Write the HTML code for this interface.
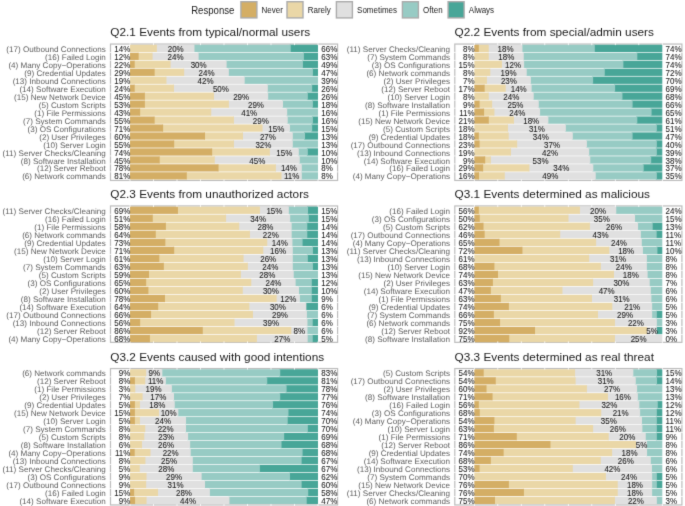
<!DOCTYPE html>
<html><head><meta charset="utf-8"><style>
html,body{margin:0;padding:0;background:#fff;width:685px;height:506px;overflow:hidden}
svg{display:block;will-change:transform}
text{font-family:'Liberation Sans', sans-serif}
.l{fill:#5C5C5C;font-size:8.1px;text-rendering:geometricPrecision}
.p{fill:#1A1A1A;font-size:8.0px;stroke:#1A1A1A;stroke-width:0.06px}
.t{fill:#1A1A1A;font-size:11.8px}
.g{fill:#1A1A1A;font-size:8px}
</style></head><body>
<svg width="685" height="506" viewBox="0 0 685 506">
<defs><filter id="bl" x="0" y="0" width="685" height="506" filterUnits="userSpaceOnUse" color-interpolation-filters="sRGB"><feConvolveMatrix order="3" kernelMatrix="0.0114 0.0841 0.0114 0.0841 0.618 0.0841 0.0114 0.0841 0.0114" edgeMode="duplicate"/></filter></defs>
<g filter="url(#bl)">
<rect width="685" height="506" fill="#fff"/>

<text transform="translate(191.2 14.0) scale(1 1.05)" style="font-size:9.6px;fill:#1A1A1A">Response</text>
<rect x="240.9" y="1.7" width="16" height="16.2" fill="#D4AE65" stroke="#ABABAB" stroke-width="1.4"/>
<text class="g" transform="translate(261.60 13.3) scale(1 1.08)">Never</text>
<rect x="287.0" y="1.7" width="16" height="16.2" fill="#EAD7A7" stroke="#ABABAB" stroke-width="1.4"/>
<text class="g" transform="translate(307.70 13.3) scale(1 1.08)">Rarely</text>
<rect x="336.4" y="1.7" width="16" height="16.2" fill="#E0E0E0" stroke="#ABABAB" stroke-width="1.4"/>
<text class="g" transform="translate(357.10 13.3) scale(1 1.08)">Sometimes</text>
<rect x="402.4" y="1.7" width="16" height="16.2" fill="#97CBC4" stroke="#ABABAB" stroke-width="1.4"/>
<text class="g" transform="translate(423.10 13.3) scale(1 1.08)">Often</text>
<rect x="448.1" y="1.7" width="16" height="16.2" fill="#48A698" stroke="#ABABAB" stroke-width="1.4"/>
<text class="g" transform="translate(468.80 13.3) scale(1 1.08)">Always</text>
<text class="t" x="110.30" y="36.05">Q2.1 Events from typical/normal users</text>
<rect x="110.50" y="44.05" width="227.10" height="136.40" fill="none" stroke="#BCBCBC" stroke-width="1.2"/>
<rect x="289.74" y="44.73" width="28.26" height="7.27" fill="#48A698"/>
<rect x="193.48" y="44.73" width="97.26" height="7.27" fill="#97CBC4"/>
<rect x="155.88" y="44.73" width="38.60" height="7.27" fill="#E0E0E0"/>
<rect x="130.00" y="44.73" width="26.88" height="7.27" fill="#EAD7A7"/>
<rect x="302.90" y="52.70" width="15.10" height="7.27" fill="#48A698"/>
<rect x="197.62" y="52.70" width="106.28" height="7.27" fill="#97CBC4"/>
<rect x="151.56" y="52.70" width="47.06" height="7.27" fill="#E0E0E0"/>
<rect x="137.65" y="52.70" width="14.91" height="7.27" fill="#EAD7A7"/>
<rect x="130.00" y="52.70" width="8.65" height="7.27" fill="#D4AE65"/>
<rect x="301.96" y="60.67" width="16.04" height="7.27" fill="#48A698"/>
<rect x="225.63" y="60.67" width="77.33" height="7.27" fill="#97CBC4"/>
<rect x="169.61" y="60.67" width="57.02" height="7.27" fill="#E0E0E0"/>
<rect x="133.70" y="60.67" width="36.91" height="7.27" fill="#EAD7A7"/>
<rect x="130.00" y="60.67" width="4.70" height="7.27" fill="#D4AE65"/>
<rect x="311.92" y="68.64" width="6.08" height="7.27" fill="#48A698"/>
<rect x="227.89" y="68.64" width="85.04" height="7.27" fill="#97CBC4"/>
<rect x="183.14" y="68.64" width="45.74" height="7.27" fill="#E0E0E0"/>
<rect x="153.63" y="68.64" width="30.52" height="7.27" fill="#EAD7A7"/>
<rect x="130.00" y="68.64" width="24.63" height="7.27" fill="#D4AE65"/>
<rect x="243.68" y="76.61" width="74.32" height="7.27" fill="#97CBC4"/>
<rect x="165.47" y="76.61" width="79.21" height="7.27" fill="#E0E0E0"/>
<rect x="130.00" y="76.61" width="36.47" height="7.27" fill="#EAD7A7"/>
<rect x="311.17" y="84.58" width="6.83" height="7.27" fill="#48A698"/>
<rect x="266.80" y="84.58" width="45.37" height="7.27" fill="#97CBC4"/>
<rect x="172.99" y="84.58" width="94.81" height="7.27" fill="#E0E0E0"/>
<rect x="133.70" y="84.58" width="40.29" height="7.27" fill="#EAD7A7"/>
<rect x="130.00" y="84.58" width="4.70" height="7.27" fill="#D4AE65"/>
<rect x="306.85" y="92.55" width="11.15" height="7.27" fill="#48A698"/>
<rect x="267.18" y="92.55" width="40.67" height="7.27" fill="#97CBC4"/>
<rect x="213.04" y="92.55" width="55.14" height="7.27" fill="#E0E0E0"/>
<rect x="143.85" y="92.55" width="70.18" height="7.27" fill="#EAD7A7"/>
<rect x="130.00" y="92.55" width="14.85" height="7.27" fill="#D4AE65"/>
<rect x="311.92" y="100.52" width="6.08" height="7.27" fill="#48A698"/>
<rect x="282.03" y="100.52" width="30.89" height="7.27" fill="#97CBC4"/>
<rect x="227.89" y="100.52" width="55.14" height="7.27" fill="#E0E0E0"/>
<rect x="143.85" y="100.52" width="85.04" height="7.27" fill="#EAD7A7"/>
<rect x="130.00" y="100.52" width="14.85" height="7.27" fill="#D4AE65"/>
<rect x="286.17" y="108.49" width="31.83" height="7.27" fill="#97CBC4"/>
<rect x="210.22" y="108.49" width="76.95" height="7.27" fill="#E0E0E0"/>
<rect x="139.15" y="108.49" width="72.06" height="7.27" fill="#EAD7A7"/>
<rect x="130.00" y="108.49" width="10.15" height="7.27" fill="#D4AE65"/>
<rect x="311.92" y="116.46" width="6.08" height="7.27" fill="#48A698"/>
<rect x="286.73" y="116.46" width="26.19" height="7.27" fill="#97CBC4"/>
<rect x="232.96" y="116.46" width="54.77" height="7.27" fill="#E0E0E0"/>
<rect x="153.63" y="116.46" width="80.34" height="7.27" fill="#EAD7A7"/>
<rect x="130.00" y="116.46" width="24.63" height="7.27" fill="#D4AE65"/>
<rect x="311.17" y="124.43" width="6.83" height="7.27" fill="#48A698"/>
<rect x="288.99" y="124.43" width="23.18" height="7.27" fill="#97CBC4"/>
<rect x="261.54" y="124.43" width="28.45" height="7.27" fill="#E0E0E0"/>
<rect x="162.09" y="124.43" width="100.45" height="7.27" fill="#EAD7A7"/>
<rect x="130.00" y="124.43" width="33.09" height="7.27" fill="#D4AE65"/>
<rect x="304.03" y="132.40" width="13.97" height="7.27" fill="#48A698"/>
<rect x="291.81" y="132.40" width="13.22" height="7.27" fill="#97CBC4"/>
<rect x="241.99" y="132.40" width="50.82" height="7.27" fill="#E0E0E0"/>
<rect x="204.01" y="132.40" width="38.98" height="7.27" fill="#EAD7A7"/>
<rect x="130.00" y="132.40" width="75.01" height="7.27" fill="#D4AE65"/>
<rect x="291.81" y="140.37" width="26.19" height="7.27" fill="#97CBC4"/>
<rect x="232.96" y="140.37" width="59.84" height="7.27" fill="#E0E0E0"/>
<rect x="173.18" y="140.37" width="60.78" height="7.27" fill="#EAD7A7"/>
<rect x="130.00" y="140.37" width="44.18" height="7.27" fill="#D4AE65"/>
<rect x="306.85" y="148.34" width="11.15" height="7.27" fill="#48A698"/>
<rect x="297.82" y="148.34" width="10.02" height="7.27" fill="#97CBC4"/>
<rect x="268.87" y="148.34" width="29.95" height="7.27" fill="#E0E0E0"/>
<rect x="211.16" y="148.34" width="58.72" height="7.27" fill="#EAD7A7"/>
<rect x="130.00" y="148.34" width="82.16" height="7.27" fill="#D4AE65"/>
<rect x="298.76" y="156.31" width="19.24" height="7.27" fill="#97CBC4"/>
<rect x="213.79" y="156.31" width="85.98" height="7.27" fill="#E0E0E0"/>
<rect x="158.70" y="156.31" width="56.08" height="7.27" fill="#EAD7A7"/>
<rect x="130.00" y="156.31" width="29.70" height="7.27" fill="#D4AE65"/>
<rect x="300.83" y="164.28" width="17.17" height="7.27" fill="#97CBC4"/>
<rect x="274.89" y="164.28" width="26.94" height="7.27" fill="#E0E0E0"/>
<rect x="217.55" y="164.28" width="58.34" height="7.27" fill="#EAD7A7"/>
<rect x="130.00" y="164.28" width="88.55" height="7.27" fill="#D4AE65"/>
<rect x="300.83" y="172.25" width="17.17" height="7.27" fill="#97CBC4"/>
<rect x="280.53" y="172.25" width="21.30" height="7.27" fill="#E0E0E0"/>
<rect x="185.78" y="172.25" width="95.75" height="7.27" fill="#EAD7A7"/>
<rect x="130.00" y="172.25" width="56.78" height="7.27" fill="#D4AE65"/>
<rect x="109.50" y="51.95" width="2" height="0.8" fill="#fff"/>
<rect x="336.60" y="51.95" width="2" height="0.8" fill="#fff"/>
<rect x="109.50" y="59.92" width="2" height="0.8" fill="#fff"/>
<rect x="336.60" y="59.92" width="2" height="0.8" fill="#fff"/>
<rect x="109.50" y="67.89" width="2" height="0.8" fill="#fff"/>
<rect x="336.60" y="67.89" width="2" height="0.8" fill="#fff"/>
<rect x="109.50" y="75.86" width="2" height="0.8" fill="#fff"/>
<rect x="336.60" y="75.86" width="2" height="0.8" fill="#fff"/>
<rect x="109.50" y="83.83" width="2" height="0.8" fill="#fff"/>
<rect x="336.60" y="83.83" width="2" height="0.8" fill="#fff"/>
<rect x="109.50" y="91.80" width="2" height="0.8" fill="#fff"/>
<rect x="336.60" y="91.80" width="2" height="0.8" fill="#fff"/>
<rect x="109.50" y="99.77" width="2" height="0.8" fill="#fff"/>
<rect x="336.60" y="99.77" width="2" height="0.8" fill="#fff"/>
<rect x="109.50" y="107.74" width="2" height="0.8" fill="#fff"/>
<rect x="336.60" y="107.74" width="2" height="0.8" fill="#fff"/>
<rect x="109.50" y="115.71" width="2" height="0.8" fill="#fff"/>
<rect x="336.60" y="115.71" width="2" height="0.8" fill="#fff"/>
<rect x="109.50" y="123.68" width="2" height="0.8" fill="#fff"/>
<rect x="336.60" y="123.68" width="2" height="0.8" fill="#fff"/>
<rect x="109.50" y="131.65" width="2" height="0.8" fill="#fff"/>
<rect x="336.60" y="131.65" width="2" height="0.8" fill="#fff"/>
<rect x="109.50" y="139.62" width="2" height="0.8" fill="#fff"/>
<rect x="336.60" y="139.62" width="2" height="0.8" fill="#fff"/>
<rect x="109.50" y="147.59" width="2" height="0.8" fill="#fff"/>
<rect x="336.60" y="147.59" width="2" height="0.8" fill="#fff"/>
<rect x="109.50" y="155.56" width="2" height="0.8" fill="#fff"/>
<rect x="336.60" y="155.56" width="2" height="0.8" fill="#fff"/>
<rect x="109.50" y="163.53" width="2" height="0.8" fill="#fff"/>
<rect x="336.60" y="163.53" width="2" height="0.8" fill="#fff"/>
<rect x="109.50" y="171.50" width="2" height="0.8" fill="#fff"/>
<rect x="336.60" y="171.50" width="2" height="0.8" fill="#fff"/>
<rect x="129.60" y="43.15" width="0.8" height="2" fill="#fff"/>
<rect x="129.60" y="179.45" width="0.8" height="2" fill="#fff"/>
<rect x="153.10" y="43.15" width="0.8" height="2" fill="#fff"/>
<rect x="153.10" y="179.45" width="0.8" height="2" fill="#fff"/>
<rect x="176.60" y="43.15" width="0.8" height="2" fill="#fff"/>
<rect x="176.60" y="179.45" width="0.8" height="2" fill="#fff"/>
<rect x="200.10" y="43.15" width="0.8" height="2" fill="#fff"/>
<rect x="200.10" y="179.45" width="0.8" height="2" fill="#fff"/>
<rect x="223.60" y="43.15" width="0.8" height="2" fill="#fff"/>
<rect x="223.60" y="179.45" width="0.8" height="2" fill="#fff"/>
<rect x="247.10" y="43.15" width="0.8" height="2" fill="#fff"/>
<rect x="247.10" y="179.45" width="0.8" height="2" fill="#fff"/>
<rect x="270.60" y="43.15" width="0.8" height="2" fill="#fff"/>
<rect x="270.60" y="179.45" width="0.8" height="2" fill="#fff"/>
<rect x="294.10" y="43.15" width="0.8" height="2" fill="#fff"/>
<rect x="294.10" y="179.45" width="0.8" height="2" fill="#fff"/>
<rect x="317.60" y="43.15" width="0.8" height="2" fill="#fff"/>
<rect x="317.60" y="179.45" width="0.8" height="2" fill="#fff"/>
<text class="l" transform="translate(105.80 51.91) scale(1 1.0)" text-anchor="end">(17) Outbound Connections</text>
<text class="p" transform="translate(130.30 51.91) scale(1 1.1)" text-anchor="end">14%</text>
<text class="p" transform="translate(321.30 51.91) scale(1 1.1)">66%</text>
<text class="p" transform="translate(175.68 51.91) scale(1 1.1)" text-anchor="middle">20%</text>
<text class="l" transform="translate(105.80 59.88) scale(1 1.0)" text-anchor="end">(16) Failed Login</text>
<text class="p" transform="translate(130.30 59.88) scale(1 1.1)" text-anchor="end">12%</text>
<text class="p" transform="translate(321.30 59.88) scale(1 1.1)">63%</text>
<text class="p" transform="translate(175.59 59.88) scale(1 1.1)" text-anchor="middle">24%</text>
<text class="l" transform="translate(105.80 67.85) scale(1 1.0)" text-anchor="end">(4) Many Copy−Operations</text>
<text class="p" transform="translate(130.30 67.85) scale(1 1.1)" text-anchor="end">22%</text>
<text class="p" transform="translate(321.30 67.85) scale(1 1.1)">49%</text>
<text class="p" transform="translate(198.62 67.85) scale(1 1.1)" text-anchor="middle">30%</text>
<text class="l" transform="translate(105.80 75.82) scale(1 1.0)" text-anchor="end">(9) Credential Updates</text>
<text class="p" transform="translate(130.30 75.82) scale(1 1.1)" text-anchor="end">29%</text>
<text class="p" transform="translate(321.30 75.82) scale(1 1.1)">47%</text>
<text class="p" transform="translate(206.52 75.82) scale(1 1.1)" text-anchor="middle">24%</text>
<text class="l" transform="translate(105.80 83.79) scale(1 1.0)" text-anchor="end">(13) Inbound Connections</text>
<text class="p" transform="translate(130.30 83.79) scale(1 1.1)" text-anchor="end">19%</text>
<text class="p" transform="translate(321.30 83.79) scale(1 1.1)">39%</text>
<text class="p" transform="translate(205.58 83.79) scale(1 1.1)" text-anchor="middle">42%</text>
<text class="l" transform="translate(105.80 91.77) scale(1 1.0)" text-anchor="end">(14) Software Execution</text>
<text class="p" transform="translate(130.30 91.77) scale(1 1.1)" text-anchor="end">24%</text>
<text class="p" transform="translate(321.30 91.77) scale(1 1.1)">26%</text>
<text class="p" transform="translate(220.90 91.77) scale(1 1.1)" text-anchor="middle">50%</text>
<text class="l" transform="translate(105.80 99.73) scale(1 1.0)" text-anchor="end">(15) New Network Device</text>
<text class="p" transform="translate(130.30 99.73) scale(1 1.1)" text-anchor="end">45%</text>
<text class="p" transform="translate(321.30 99.73) scale(1 1.1)">26%</text>
<text class="p" transform="translate(241.11 99.73) scale(1 1.1)" text-anchor="middle">29%</text>
<text class="l" transform="translate(105.80 107.70) scale(1 1.0)" text-anchor="end">(5) Custom Scripts</text>
<text class="p" transform="translate(130.30 107.70) scale(1 1.1)" text-anchor="end">53%</text>
<text class="p" transform="translate(321.30 107.70) scale(1 1.1)">18%</text>
<text class="p" transform="translate(255.96 107.70) scale(1 1.1)" text-anchor="middle">29%</text>
<text class="l" transform="translate(105.80 115.67) scale(1 1.0)" text-anchor="end">(1) File Permissions</text>
<text class="p" transform="translate(130.30 115.67) scale(1 1.1)" text-anchor="end">43%</text>
<text class="p" transform="translate(321.30 115.67) scale(1 1.1)">16%</text>
<text class="p" transform="translate(249.19 115.67) scale(1 1.1)" text-anchor="middle">41%</text>
<text class="l" transform="translate(105.80 123.64) scale(1 1.0)" text-anchor="end">(7) System Commands</text>
<text class="p" transform="translate(130.30 123.64) scale(1 1.1)" text-anchor="end">55%</text>
<text class="p" transform="translate(321.30 123.64) scale(1 1.1)">16%</text>
<text class="p" transform="translate(260.85 123.64) scale(1 1.1)" text-anchor="middle">29%</text>
<text class="l" transform="translate(105.80 131.62) scale(1 1.0)" text-anchor="end">(3) OS Configurations</text>
<text class="p" transform="translate(130.30 131.62) scale(1 1.1)" text-anchor="end">71%</text>
<text class="p" transform="translate(321.30 131.62) scale(1 1.1)">15%</text>
<text class="p" transform="translate(276.26 131.62) scale(1 1.1)" text-anchor="middle">15%</text>
<text class="l" transform="translate(105.80 139.59) scale(1 1.0)" text-anchor="end">(2) User Privileges</text>
<text class="p" transform="translate(130.30 139.59) scale(1 1.1)" text-anchor="end">60%</text>
<text class="p" transform="translate(321.30 139.59) scale(1 1.1)">13%</text>
<text class="p" transform="translate(267.90 139.59) scale(1 1.1)" text-anchor="middle">27%</text>
<text class="l" transform="translate(105.80 147.56) scale(1 1.0)" text-anchor="end">(10) Server Login</text>
<text class="p" transform="translate(130.30 147.56) scale(1 1.1)" text-anchor="end">55%</text>
<text class="p" transform="translate(321.30 147.56) scale(1 1.1)">13%</text>
<text class="p" transform="translate(263.39 147.56) scale(1 1.1)" text-anchor="middle">32%</text>
<text class="l" transform="translate(105.80 155.53) scale(1 1.0)" text-anchor="end">(11) Server Checks/Cleaning</text>
<text class="p" transform="translate(130.30 155.53) scale(1 1.1)" text-anchor="end">74%</text>
<text class="p" transform="translate(321.30 155.53) scale(1 1.1)">10%</text>
<text class="p" transform="translate(284.35 155.53) scale(1 1.1)" text-anchor="middle">15%</text>
<text class="l" transform="translate(105.80 163.50) scale(1 1.0)" text-anchor="end">(8) Software Installation</text>
<text class="p" transform="translate(130.30 163.50) scale(1 1.1)" text-anchor="end">45%</text>
<text class="p" transform="translate(321.30 163.50) scale(1 1.1)">10%</text>
<text class="p" transform="translate(257.28 163.50) scale(1 1.1)" text-anchor="middle">45%</text>
<text class="l" transform="translate(105.80 171.47) scale(1 1.0)" text-anchor="end">(12) Server Reboot</text>
<text class="p" transform="translate(130.30 171.47) scale(1 1.1)" text-anchor="end">78%</text>
<text class="p" transform="translate(321.30 171.47) scale(1 1.1)">8%</text>
<text class="p" transform="translate(288.86 171.47) scale(1 1.1)" text-anchor="middle">14%</text>
<text class="l" transform="translate(105.80 179.44) scale(1 1.0)" text-anchor="end">(6) Network commands</text>
<text class="p" transform="translate(130.30 179.44) scale(1 1.1)" text-anchor="end">81%</text>
<text class="p" transform="translate(321.30 179.44) scale(1 1.1)">8%</text>
<text class="p" transform="translate(291.68 179.44) scale(1 1.1)" text-anchor="middle">11%</text>
<text class="t" x="110.30" y="197.95">Q2.3 Events from unauthorized actors</text>
<rect x="110.50" y="205.95" width="227.10" height="136.40" fill="none" stroke="#BCBCBC" stroke-width="1.2"/>
<rect x="307.04" y="206.58" width="10.96" height="7.32" fill="#48A698"/>
<rect x="287.86" y="206.58" width="20.18" height="7.32" fill="#97CBC4"/>
<rect x="258.91" y="206.58" width="29.95" height="7.32" fill="#E0E0E0"/>
<rect x="176.94" y="206.58" width="82.97" height="7.32" fill="#EAD7A7"/>
<rect x="130.00" y="206.58" width="47.94" height="7.32" fill="#D4AE65"/>
<rect x="307.79" y="214.60" width="10.21" height="7.32" fill="#48A698"/>
<rect x="289.18" y="214.60" width="19.61" height="7.32" fill="#97CBC4"/>
<rect x="225.07" y="214.60" width="65.11" height="7.32" fill="#E0E0E0"/>
<rect x="151.75" y="214.60" width="74.32" height="7.32" fill="#EAD7A7"/>
<rect x="130.00" y="214.60" width="22.75" height="7.32" fill="#D4AE65"/>
<rect x="306.28" y="222.62" width="11.72" height="7.32" fill="#48A698"/>
<rect x="290.68" y="222.62" width="16.60" height="7.32" fill="#97CBC4"/>
<rect x="238.23" y="222.62" width="53.45" height="7.32" fill="#E0E0E0"/>
<rect x="164.91" y="222.62" width="74.32" height="7.32" fill="#EAD7A7"/>
<rect x="130.00" y="222.62" width="35.91" height="7.32" fill="#D4AE65"/>
<rect x="306.28" y="230.64" width="11.72" height="7.32" fill="#48A698"/>
<rect x="290.68" y="230.64" width="16.60" height="7.32" fill="#97CBC4"/>
<rect x="248.94" y="230.64" width="42.74" height="7.32" fill="#E0E0E0"/>
<rect x="154.76" y="230.64" width="95.19" height="7.32" fill="#EAD7A7"/>
<rect x="130.00" y="230.64" width="25.76" height="7.32" fill="#D4AE65"/>
<rect x="301.58" y="238.66" width="16.42" height="7.32" fill="#48A698"/>
<rect x="291.43" y="238.66" width="11.15" height="7.32" fill="#97CBC4"/>
<rect x="266.24" y="238.66" width="26.19" height="7.32" fill="#E0E0E0"/>
<rect x="164.34" y="238.66" width="102.90" height="7.32" fill="#EAD7A7"/>
<rect x="130.00" y="238.66" width="35.34" height="7.32" fill="#D4AE65"/>
<rect x="311.92" y="246.68" width="6.08" height="7.32" fill="#48A698"/>
<rect x="291.81" y="246.68" width="21.12" height="7.32" fill="#97CBC4"/>
<rect x="262.29" y="246.68" width="30.52" height="7.32" fill="#E0E0E0"/>
<rect x="173.18" y="246.68" width="90.11" height="7.32" fill="#EAD7A7"/>
<rect x="130.00" y="246.68" width="44.18" height="7.32" fill="#D4AE65"/>
<rect x="306.85" y="254.70" width="11.15" height="7.32" fill="#48A698"/>
<rect x="291.81" y="254.70" width="16.04" height="7.32" fill="#97CBC4"/>
<rect x="242.55" y="254.70" width="50.26" height="7.32" fill="#E0E0E0"/>
<rect x="158.33" y="254.70" width="85.22" height="7.32" fill="#EAD7A7"/>
<rect x="130.00" y="254.70" width="29.33" height="7.32" fill="#D4AE65"/>
<rect x="311.92" y="262.72" width="6.08" height="7.32" fill="#48A698"/>
<rect x="291.81" y="262.72" width="21.12" height="7.32" fill="#97CBC4"/>
<rect x="246.88" y="262.72" width="45.93" height="7.32" fill="#E0E0E0"/>
<rect x="162.84" y="262.72" width="85.04" height="7.32" fill="#EAD7A7"/>
<rect x="130.00" y="262.72" width="33.84" height="7.32" fill="#D4AE65"/>
<rect x="292.75" y="270.74" width="25.25" height="7.32" fill="#97CBC4"/>
<rect x="239.92" y="270.74" width="53.83" height="7.32" fill="#E0E0E0"/>
<rect x="147.99" y="270.74" width="92.93" height="7.32" fill="#EAD7A7"/>
<rect x="130.00" y="270.74" width="18.99" height="7.32" fill="#D4AE65"/>
<rect x="310.80" y="278.76" width="7.20" height="7.32" fill="#48A698"/>
<rect x="294.63" y="278.76" width="17.17" height="7.32" fill="#97CBC4"/>
<rect x="250.26" y="278.76" width="45.37" height="7.32" fill="#E0E0E0"/>
<rect x="145.17" y="278.76" width="106.09" height="7.32" fill="#EAD7A7"/>
<rect x="130.00" y="278.76" width="16.17" height="7.32" fill="#D4AE65"/>
<rect x="310.80" y="286.78" width="7.20" height="7.32" fill="#48A698"/>
<rect x="298.01" y="286.78" width="13.78" height="7.32" fill="#97CBC4"/>
<rect x="241.80" y="286.78" width="57.21" height="7.32" fill="#E0E0E0"/>
<rect x="147.42" y="286.78" width="95.38" height="7.32" fill="#EAD7A7"/>
<rect x="130.00" y="286.78" width="18.42" height="7.32" fill="#D4AE65"/>
<rect x="310.80" y="294.80" width="7.20" height="7.32" fill="#48A698"/>
<rect x="298.95" y="294.80" width="12.84" height="7.32" fill="#97CBC4"/>
<rect x="275.64" y="294.80" width="24.31" height="7.32" fill="#E0E0E0"/>
<rect x="163.97" y="294.80" width="112.67" height="7.32" fill="#EAD7A7"/>
<rect x="130.00" y="294.80" width="34.97" height="7.32" fill="#D4AE65"/>
<rect x="305.34" y="302.82" width="12.66" height="7.32" fill="#48A698"/>
<rect x="248.38" y="302.82" width="57.96" height="7.32" fill="#E0E0E0"/>
<rect x="157.20" y="302.82" width="92.18" height="7.32" fill="#EAD7A7"/>
<rect x="130.00" y="302.82" width="28.20" height="7.32" fill="#D4AE65"/>
<rect x="305.91" y="310.84" width="12.09" height="7.32" fill="#97CBC4"/>
<rect x="251.95" y="310.84" width="54.96" height="7.32" fill="#E0E0E0"/>
<rect x="150.06" y="310.84" width="102.90" height="7.32" fill="#EAD7A7"/>
<rect x="130.00" y="310.84" width="21.06" height="7.32" fill="#D4AE65"/>
<rect x="311.74" y="318.86" width="6.26" height="7.32" fill="#48A698"/>
<rect x="306.47" y="318.86" width="6.26" height="7.32" fill="#97CBC4"/>
<rect x="233.53" y="318.86" width="73.94" height="7.32" fill="#E0E0E0"/>
<rect x="139.15" y="318.86" width="95.38" height="7.32" fill="#EAD7A7"/>
<rect x="130.00" y="318.86" width="10.15" height="7.32" fill="#D4AE65"/>
<rect x="306.47" y="326.88" width="11.53" height="7.32" fill="#97CBC4"/>
<rect x="290.30" y="326.88" width="17.17" height="7.32" fill="#E0E0E0"/>
<rect x="201.76" y="326.88" width="89.55" height="7.32" fill="#EAD7A7"/>
<rect x="130.00" y="326.88" width="72.76" height="7.32" fill="#D4AE65"/>
<rect x="311.74" y="334.90" width="6.26" height="7.32" fill="#48A698"/>
<rect x="306.66" y="334.90" width="6.08" height="7.32" fill="#97CBC4"/>
<rect x="255.90" y="334.90" width="51.76" height="7.32" fill="#E0E0E0"/>
<rect x="148.93" y="334.90" width="107.97" height="7.32" fill="#EAD7A7"/>
<rect x="130.00" y="334.90" width="19.93" height="7.32" fill="#D4AE65"/>
<rect x="109.50" y="213.85" width="2" height="0.8" fill="#fff"/>
<rect x="336.60" y="213.85" width="2" height="0.8" fill="#fff"/>
<rect x="109.50" y="221.87" width="2" height="0.8" fill="#fff"/>
<rect x="336.60" y="221.87" width="2" height="0.8" fill="#fff"/>
<rect x="109.50" y="229.89" width="2" height="0.8" fill="#fff"/>
<rect x="336.60" y="229.89" width="2" height="0.8" fill="#fff"/>
<rect x="109.50" y="237.91" width="2" height="0.8" fill="#fff"/>
<rect x="336.60" y="237.91" width="2" height="0.8" fill="#fff"/>
<rect x="109.50" y="245.93" width="2" height="0.8" fill="#fff"/>
<rect x="336.60" y="245.93" width="2" height="0.8" fill="#fff"/>
<rect x="109.50" y="253.95" width="2" height="0.8" fill="#fff"/>
<rect x="336.60" y="253.95" width="2" height="0.8" fill="#fff"/>
<rect x="109.50" y="261.97" width="2" height="0.8" fill="#fff"/>
<rect x="336.60" y="261.97" width="2" height="0.8" fill="#fff"/>
<rect x="109.50" y="269.99" width="2" height="0.8" fill="#fff"/>
<rect x="336.60" y="269.99" width="2" height="0.8" fill="#fff"/>
<rect x="109.50" y="278.01" width="2" height="0.8" fill="#fff"/>
<rect x="336.60" y="278.01" width="2" height="0.8" fill="#fff"/>
<rect x="109.50" y="286.03" width="2" height="0.8" fill="#fff"/>
<rect x="336.60" y="286.03" width="2" height="0.8" fill="#fff"/>
<rect x="109.50" y="294.05" width="2" height="0.8" fill="#fff"/>
<rect x="336.60" y="294.05" width="2" height="0.8" fill="#fff"/>
<rect x="109.50" y="302.07" width="2" height="0.8" fill="#fff"/>
<rect x="336.60" y="302.07" width="2" height="0.8" fill="#fff"/>
<rect x="109.50" y="310.09" width="2" height="0.8" fill="#fff"/>
<rect x="336.60" y="310.09" width="2" height="0.8" fill="#fff"/>
<rect x="109.50" y="318.11" width="2" height="0.8" fill="#fff"/>
<rect x="336.60" y="318.11" width="2" height="0.8" fill="#fff"/>
<rect x="109.50" y="326.13" width="2" height="0.8" fill="#fff"/>
<rect x="336.60" y="326.13" width="2" height="0.8" fill="#fff"/>
<rect x="109.50" y="334.15" width="2" height="0.8" fill="#fff"/>
<rect x="336.60" y="334.15" width="2" height="0.8" fill="#fff"/>
<rect x="129.60" y="205.05" width="0.8" height="2" fill="#fff"/>
<rect x="129.60" y="341.35" width="0.8" height="2" fill="#fff"/>
<rect x="153.10" y="205.05" width="0.8" height="2" fill="#fff"/>
<rect x="153.10" y="341.35" width="0.8" height="2" fill="#fff"/>
<rect x="176.60" y="205.05" width="0.8" height="2" fill="#fff"/>
<rect x="176.60" y="341.35" width="0.8" height="2" fill="#fff"/>
<rect x="200.10" y="205.05" width="0.8" height="2" fill="#fff"/>
<rect x="200.10" y="341.35" width="0.8" height="2" fill="#fff"/>
<rect x="223.60" y="205.05" width="0.8" height="2" fill="#fff"/>
<rect x="223.60" y="341.35" width="0.8" height="2" fill="#fff"/>
<rect x="247.10" y="205.05" width="0.8" height="2" fill="#fff"/>
<rect x="247.10" y="341.35" width="0.8" height="2" fill="#fff"/>
<rect x="270.60" y="205.05" width="0.8" height="2" fill="#fff"/>
<rect x="270.60" y="341.35" width="0.8" height="2" fill="#fff"/>
<rect x="294.10" y="205.05" width="0.8" height="2" fill="#fff"/>
<rect x="294.10" y="341.35" width="0.8" height="2" fill="#fff"/>
<rect x="317.60" y="205.05" width="0.8" height="2" fill="#fff"/>
<rect x="317.60" y="341.35" width="0.8" height="2" fill="#fff"/>
<text class="l" transform="translate(105.80 213.79) scale(1 1.0)" text-anchor="end">(11) Server Checks/Cleaning</text>
<text class="p" transform="translate(130.30 213.79) scale(1 1.1)" text-anchor="end">69%</text>
<text class="p" transform="translate(321.30 213.79) scale(1 1.1)">15%</text>
<text class="p" transform="translate(274.38 213.79) scale(1 1.1)" text-anchor="middle">15%</text>
<text class="l" transform="translate(105.80 221.81) scale(1 1.0)" text-anchor="end">(16) Failed Login</text>
<text class="p" transform="translate(130.30 221.81) scale(1 1.1)" text-anchor="end">51%</text>
<text class="p" transform="translate(321.30 221.81) scale(1 1.1)">15%</text>
<text class="p" transform="translate(258.12 221.81) scale(1 1.1)" text-anchor="middle">34%</text>
<text class="l" transform="translate(105.80 229.83) scale(1 1.0)" text-anchor="end">(1) File Permissions</text>
<text class="p" transform="translate(130.30 229.83) scale(1 1.1)" text-anchor="end">58%</text>
<text class="p" transform="translate(321.30 229.83) scale(1 1.1)">14%</text>
<text class="p" transform="translate(265.45 229.83) scale(1 1.1)" text-anchor="middle">28%</text>
<text class="l" transform="translate(105.80 237.85) scale(1 1.0)" text-anchor="end">(6) Network commands</text>
<text class="p" transform="translate(130.30 237.85) scale(1 1.1)" text-anchor="end">64%</text>
<text class="p" transform="translate(321.30 237.85) scale(1 1.1)">14%</text>
<text class="p" transform="translate(270.81 237.85) scale(1 1.1)" text-anchor="middle">22%</text>
<text class="l" transform="translate(105.80 245.87) scale(1 1.0)" text-anchor="end">(9) Credential Updates</text>
<text class="p" transform="translate(130.30 245.87) scale(1 1.1)" text-anchor="end">73%</text>
<text class="p" transform="translate(321.30 245.87) scale(1 1.1)">14%</text>
<text class="p" transform="translate(279.84 245.87) scale(1 1.1)" text-anchor="middle">14%</text>
<text class="l" transform="translate(105.80 253.89) scale(1 1.0)" text-anchor="end">(15) New Network Device</text>
<text class="p" transform="translate(130.30 253.89) scale(1 1.1)" text-anchor="end">71%</text>
<text class="p" transform="translate(321.30 253.89) scale(1 1.1)">13%</text>
<text class="p" transform="translate(278.05 253.89) scale(1 1.1)" text-anchor="middle">16%</text>
<text class="l" transform="translate(105.80 261.91) scale(1 1.0)" text-anchor="end">(10) Server Login</text>
<text class="p" transform="translate(130.30 261.91) scale(1 1.1)" text-anchor="end">61%</text>
<text class="p" transform="translate(321.30 261.91) scale(1 1.1)">13%</text>
<text class="p" transform="translate(268.18 261.91) scale(1 1.1)" text-anchor="middle">26%</text>
<text class="l" transform="translate(105.80 269.93) scale(1 1.0)" text-anchor="end">(7) System Commands</text>
<text class="p" transform="translate(130.30 269.93) scale(1 1.1)" text-anchor="end">63%</text>
<text class="p" transform="translate(321.30 269.93) scale(1 1.1)">13%</text>
<text class="p" transform="translate(270.34 269.93) scale(1 1.1)" text-anchor="middle">24%</text>
<text class="l" transform="translate(105.80 277.95) scale(1 1.0)" text-anchor="end">(5) Custom Scripts</text>
<text class="p" transform="translate(130.30 277.95) scale(1 1.1)" text-anchor="end">59%</text>
<text class="p" transform="translate(321.30 277.95) scale(1 1.1)">13%</text>
<text class="p" transform="translate(267.33 277.95) scale(1 1.1)" text-anchor="middle">28%</text>
<text class="l" transform="translate(105.80 285.97) scale(1 1.0)" text-anchor="end">(3) OS Configurations</text>
<text class="p" transform="translate(130.30 285.97) scale(1 1.1)" text-anchor="end">65%</text>
<text class="p" transform="translate(321.30 285.97) scale(1 1.1)">12%</text>
<text class="p" transform="translate(273.44 285.97) scale(1 1.1)" text-anchor="middle">24%</text>
<text class="l" transform="translate(105.80 293.99) scale(1 1.0)" text-anchor="end">(2) User Privileges</text>
<text class="p" transform="translate(130.30 293.99) scale(1 1.1)" text-anchor="end">60%</text>
<text class="p" transform="translate(321.30 293.99) scale(1 1.1)">10%</text>
<text class="p" transform="translate(270.91 293.99) scale(1 1.1)" text-anchor="middle">30%</text>
<text class="l" transform="translate(105.80 302.01) scale(1 1.0)" text-anchor="end">(8) Software Installation</text>
<text class="p" transform="translate(130.30 302.01) scale(1 1.1)" text-anchor="end">78%</text>
<text class="p" transform="translate(321.30 302.01) scale(1 1.1)">9%</text>
<text class="p" transform="translate(288.30 302.01) scale(1 1.1)" text-anchor="middle">12%</text>
<text class="l" transform="translate(105.80 310.03) scale(1 1.0)" text-anchor="end">(14) Software Execution</text>
<text class="p" transform="translate(130.30 310.03) scale(1 1.1)" text-anchor="end">64%</text>
<text class="p" transform="translate(321.30 310.03) scale(1 1.1)">6%</text>
<text class="p" transform="translate(277.86 310.03) scale(1 1.1)" text-anchor="middle">30%</text>
<text class="l" transform="translate(105.80 318.05) scale(1 1.0)" text-anchor="end">(17) Outbound Connections</text>
<text class="p" transform="translate(130.30 318.05) scale(1 1.1)" text-anchor="end">66%</text>
<text class="p" transform="translate(321.30 318.05) scale(1 1.1)">6%</text>
<text class="p" transform="translate(279.93 318.05) scale(1 1.1)" text-anchor="middle">29%</text>
<text class="l" transform="translate(105.80 326.07) scale(1 1.0)" text-anchor="end">(13) Inbound Connections</text>
<text class="p" transform="translate(130.30 326.07) scale(1 1.1)" text-anchor="end">56%</text>
<text class="p" transform="translate(321.30 326.07) scale(1 1.1)">6%</text>
<text class="p" transform="translate(271.00 326.07) scale(1 1.1)" text-anchor="middle">39%</text>
<text class="l" transform="translate(105.80 334.09) scale(1 1.0)" text-anchor="end">(12) Server Reboot</text>
<text class="p" transform="translate(130.30 334.09) scale(1 1.1)" text-anchor="end">86%</text>
<text class="p" transform="translate(321.30 334.09) scale(1 1.1)">6%</text>
<text class="p" transform="translate(299.39 334.09) scale(1 1.1)" text-anchor="middle">8%</text>
<text class="l" transform="translate(105.80 342.11) scale(1 1.0)" text-anchor="end">(4) Many Copy−Operations</text>
<text class="p" transform="translate(130.30 342.11) scale(1 1.1)" text-anchor="end">68%</text>
<text class="p" transform="translate(321.30 342.11) scale(1 1.1)">5%</text>
<text class="p" transform="translate(282.28 342.11) scale(1 1.1)" text-anchor="middle">27%</text>
<text class="t" x="110.30" y="360.55">Q3.2 Events caused with good intentions</text>
<rect x="110.50" y="368.55" width="227.10" height="136.40" fill="none" stroke="#BCBCBC" stroke-width="1.2"/>
<rect x="279.21" y="369.23" width="38.79" height="7.27" fill="#48A698"/>
<rect x="161.34" y="369.23" width="118.88" height="7.27" fill="#97CBC4"/>
<rect x="145.17" y="369.23" width="17.17" height="7.27" fill="#E0E0E0"/>
<rect x="130.00" y="369.23" width="16.17" height="7.27" fill="#EAD7A7"/>
<rect x="266.24" y="377.20" width="51.76" height="7.27" fill="#48A698"/>
<rect x="164.91" y="377.20" width="102.33" height="7.27" fill="#97CBC4"/>
<rect x="144.23" y="377.20" width="21.68" height="7.27" fill="#E0E0E0"/>
<rect x="133.89" y="377.20" width="11.34" height="7.27" fill="#EAD7A7"/>
<rect x="130.00" y="377.20" width="4.89" height="7.27" fill="#D4AE65"/>
<rect x="285.60" y="385.17" width="32.40" height="7.27" fill="#48A698"/>
<rect x="170.92" y="385.17" width="115.68" height="7.27" fill="#97CBC4"/>
<rect x="134.26" y="385.17" width="37.66" height="7.27" fill="#E0E0E0"/>
<rect x="130.00" y="385.17" width="5.26" height="7.27" fill="#EAD7A7"/>
<rect x="279.21" y="393.14" width="38.79" height="7.27" fill="#48A698"/>
<rect x="172.99" y="393.14" width="107.22" height="7.27" fill="#97CBC4"/>
<rect x="141.60" y="393.14" width="32.40" height="7.27" fill="#E0E0E0"/>
<rect x="130.00" y="393.14" width="12.60" height="7.27" fill="#EAD7A7"/>
<rect x="272.07" y="401.11" width="45.93" height="7.27" fill="#48A698"/>
<rect x="173.74" y="401.11" width="99.32" height="7.27" fill="#97CBC4"/>
<rect x="138.96" y="401.11" width="35.78" height="7.27" fill="#E0E0E0"/>
<rect x="133.89" y="401.11" width="6.08" height="7.27" fill="#EAD7A7"/>
<rect x="130.00" y="401.11" width="4.89" height="7.27" fill="#D4AE65"/>
<rect x="287.48" y="409.08" width="30.52" height="7.27" fill="#48A698"/>
<rect x="177.32" y="409.08" width="111.17" height="7.27" fill="#97CBC4"/>
<rect x="157.95" y="409.08" width="20.36" height="7.27" fill="#E0E0E0"/>
<rect x="133.89" y="409.08" width="25.06" height="7.27" fill="#EAD7A7"/>
<rect x="130.00" y="409.08" width="4.89" height="7.27" fill="#D4AE65"/>
<rect x="286.73" y="417.05" width="31.27" height="7.27" fill="#48A698"/>
<rect x="185.02" y="417.05" width="102.71" height="7.27" fill="#97CBC4"/>
<rect x="138.96" y="417.05" width="47.06" height="7.27" fill="#E0E0E0"/>
<rect x="133.89" y="417.05" width="6.08" height="7.27" fill="#EAD7A7"/>
<rect x="130.00" y="417.05" width="4.89" height="7.27" fill="#D4AE65"/>
<rect x="306.85" y="425.02" width="11.15" height="7.27" fill="#48A698"/>
<rect x="185.02" y="425.02" width="122.82" height="7.27" fill="#97CBC4"/>
<rect x="144.23" y="425.02" width="41.80" height="7.27" fill="#E0E0E0"/>
<rect x="130.00" y="425.02" width="15.23" height="7.27" fill="#EAD7A7"/>
<rect x="283.16" y="432.99" width="34.84" height="7.27" fill="#48A698"/>
<rect x="187.09" y="432.99" width="97.07" height="7.27" fill="#97CBC4"/>
<rect x="143.29" y="432.99" width="44.80" height="7.27" fill="#E0E0E0"/>
<rect x="130.00" y="432.99" width="14.29" height="7.27" fill="#EAD7A7"/>
<rect x="280.53" y="440.96" width="37.47" height="7.27" fill="#48A698"/>
<rect x="189.16" y="440.96" width="92.37" height="7.27" fill="#97CBC4"/>
<rect x="141.03" y="440.96" width="49.13" height="7.27" fill="#E0E0E0"/>
<rect x="130.00" y="440.96" width="12.03" height="7.27" fill="#EAD7A7"/>
<rect x="301.58" y="448.93" width="16.42" height="7.27" fill="#48A698"/>
<rect x="189.72" y="448.93" width="112.86" height="7.27" fill="#97CBC4"/>
<rect x="149.49" y="448.93" width="41.23" height="7.27" fill="#E0E0E0"/>
<rect x="133.70" y="448.93" width="16.79" height="7.27" fill="#EAD7A7"/>
<rect x="130.00" y="448.93" width="4.70" height="7.27" fill="#D4AE65"/>
<rect x="300.64" y="456.90" width="17.36" height="7.27" fill="#48A698"/>
<rect x="191.79" y="456.90" width="109.85" height="7.27" fill="#97CBC4"/>
<rect x="144.42" y="456.90" width="48.38" height="7.27" fill="#E0E0E0"/>
<rect x="130.00" y="456.90" width="15.42" height="7.27" fill="#EAD7A7"/>
<rect x="258.91" y="464.87" width="59.09" height="7.27" fill="#48A698"/>
<rect x="191.79" y="464.87" width="68.12" height="7.27" fill="#97CBC4"/>
<rect x="138.78" y="464.87" width="54.02" height="7.27" fill="#E0E0E0"/>
<rect x="130.00" y="464.87" width="9.78" height="7.27" fill="#EAD7A7"/>
<rect x="288.99" y="472.84" width="29.01" height="7.27" fill="#48A698"/>
<rect x="200.63" y="472.84" width="89.36" height="7.27" fill="#97CBC4"/>
<rect x="145.54" y="472.84" width="56.08" height="7.27" fill="#E0E0E0"/>
<rect x="130.00" y="472.84" width="16.54" height="7.27" fill="#EAD7A7"/>
<rect x="300.64" y="480.81" width="17.36" height="7.27" fill="#48A698"/>
<rect x="204.01" y="480.81" width="97.63" height="7.27" fill="#97CBC4"/>
<rect x="145.17" y="480.81" width="59.84" height="7.27" fill="#E0E0E0"/>
<rect x="130.00" y="480.81" width="16.17" height="7.27" fill="#EAD7A7"/>
<rect x="307.22" y="488.78" width="10.78" height="7.27" fill="#48A698"/>
<rect x="208.90" y="488.78" width="99.32" height="7.27" fill="#97CBC4"/>
<rect x="157.01" y="488.78" width="52.89" height="7.27" fill="#E0E0E0"/>
<rect x="133.14" y="488.78" width="24.88" height="7.27" fill="#EAD7A7"/>
<rect x="130.00" y="488.78" width="4.14" height="7.27" fill="#D4AE65"/>
<rect x="305.72" y="496.75" width="12.28" height="7.27" fill="#48A698"/>
<rect x="228.45" y="496.75" width="78.27" height="7.27" fill="#97CBC4"/>
<rect x="145.54" y="496.75" width="83.91" height="7.27" fill="#E0E0E0"/>
<rect x="134.08" y="496.75" width="12.47" height="7.27" fill="#EAD7A7"/>
<rect x="130.00" y="496.75" width="5.08" height="7.27" fill="#D4AE65"/>
<rect x="109.50" y="376.45" width="2" height="0.8" fill="#fff"/>
<rect x="336.60" y="376.45" width="2" height="0.8" fill="#fff"/>
<rect x="109.50" y="384.42" width="2" height="0.8" fill="#fff"/>
<rect x="336.60" y="384.42" width="2" height="0.8" fill="#fff"/>
<rect x="109.50" y="392.39" width="2" height="0.8" fill="#fff"/>
<rect x="336.60" y="392.39" width="2" height="0.8" fill="#fff"/>
<rect x="109.50" y="400.36" width="2" height="0.8" fill="#fff"/>
<rect x="336.60" y="400.36" width="2" height="0.8" fill="#fff"/>
<rect x="109.50" y="408.33" width="2" height="0.8" fill="#fff"/>
<rect x="336.60" y="408.33" width="2" height="0.8" fill="#fff"/>
<rect x="109.50" y="416.30" width="2" height="0.8" fill="#fff"/>
<rect x="336.60" y="416.30" width="2" height="0.8" fill="#fff"/>
<rect x="109.50" y="424.27" width="2" height="0.8" fill="#fff"/>
<rect x="336.60" y="424.27" width="2" height="0.8" fill="#fff"/>
<rect x="109.50" y="432.24" width="2" height="0.8" fill="#fff"/>
<rect x="336.60" y="432.24" width="2" height="0.8" fill="#fff"/>
<rect x="109.50" y="440.21" width="2" height="0.8" fill="#fff"/>
<rect x="336.60" y="440.21" width="2" height="0.8" fill="#fff"/>
<rect x="109.50" y="448.18" width="2" height="0.8" fill="#fff"/>
<rect x="336.60" y="448.18" width="2" height="0.8" fill="#fff"/>
<rect x="109.50" y="456.15" width="2" height="0.8" fill="#fff"/>
<rect x="336.60" y="456.15" width="2" height="0.8" fill="#fff"/>
<rect x="109.50" y="464.12" width="2" height="0.8" fill="#fff"/>
<rect x="336.60" y="464.12" width="2" height="0.8" fill="#fff"/>
<rect x="109.50" y="472.09" width="2" height="0.8" fill="#fff"/>
<rect x="336.60" y="472.09" width="2" height="0.8" fill="#fff"/>
<rect x="109.50" y="480.06" width="2" height="0.8" fill="#fff"/>
<rect x="336.60" y="480.06" width="2" height="0.8" fill="#fff"/>
<rect x="109.50" y="488.03" width="2" height="0.8" fill="#fff"/>
<rect x="336.60" y="488.03" width="2" height="0.8" fill="#fff"/>
<rect x="109.50" y="496.00" width="2" height="0.8" fill="#fff"/>
<rect x="336.60" y="496.00" width="2" height="0.8" fill="#fff"/>
<rect x="129.60" y="367.65" width="0.8" height="2" fill="#fff"/>
<rect x="129.60" y="503.95" width="0.8" height="2" fill="#fff"/>
<rect x="153.10" y="367.65" width="0.8" height="2" fill="#fff"/>
<rect x="153.10" y="503.95" width="0.8" height="2" fill="#fff"/>
<rect x="176.60" y="367.65" width="0.8" height="2" fill="#fff"/>
<rect x="176.60" y="503.95" width="0.8" height="2" fill="#fff"/>
<rect x="200.10" y="367.65" width="0.8" height="2" fill="#fff"/>
<rect x="200.10" y="503.95" width="0.8" height="2" fill="#fff"/>
<rect x="223.60" y="367.65" width="0.8" height="2" fill="#fff"/>
<rect x="223.60" y="503.95" width="0.8" height="2" fill="#fff"/>
<rect x="247.10" y="367.65" width="0.8" height="2" fill="#fff"/>
<rect x="247.10" y="503.95" width="0.8" height="2" fill="#fff"/>
<rect x="270.60" y="367.65" width="0.8" height="2" fill="#fff"/>
<rect x="270.60" y="503.95" width="0.8" height="2" fill="#fff"/>
<rect x="294.10" y="367.65" width="0.8" height="2" fill="#fff"/>
<rect x="294.10" y="503.95" width="0.8" height="2" fill="#fff"/>
<rect x="317.60" y="367.65" width="0.8" height="2" fill="#fff"/>
<rect x="317.60" y="503.95" width="0.8" height="2" fill="#fff"/>
<text class="l" transform="translate(105.80 376.41) scale(1 1.0)" text-anchor="end">(6) Network commands</text>
<text class="p" transform="translate(130.30 376.41) scale(1 1.1)" text-anchor="end">9%</text>
<text class="p" transform="translate(321.30 376.41) scale(1 1.1)">83%</text>
<text class="p" transform="translate(154.25 376.41) scale(1 1.1)" text-anchor="middle">9%</text>
<text class="l" transform="translate(105.80 384.38) scale(1 1.0)" text-anchor="end">(12) Server Reboot</text>
<text class="p" transform="translate(130.30 384.38) scale(1 1.1)" text-anchor="end">8%</text>
<text class="p" transform="translate(321.30 384.38) scale(1 1.1)">81%</text>
<text class="p" transform="translate(155.57 384.38) scale(1 1.1)" text-anchor="middle">11%</text>
<text class="l" transform="translate(105.80 392.35) scale(1 1.0)" text-anchor="end">(1) File Permissions</text>
<text class="p" transform="translate(130.30 392.35) scale(1 1.1)" text-anchor="end">3%</text>
<text class="p" transform="translate(321.30 392.35) scale(1 1.1)">78%</text>
<text class="p" transform="translate(153.59 392.35) scale(1 1.1)" text-anchor="middle">19%</text>
<text class="l" transform="translate(105.80 400.32) scale(1 1.0)" text-anchor="end">(2) User Privileges</text>
<text class="p" transform="translate(130.30 400.32) scale(1 1.1)" text-anchor="end">7%</text>
<text class="p" transform="translate(321.30 400.32) scale(1 1.1)">77%</text>
<text class="p" transform="translate(158.29 400.32) scale(1 1.1)" text-anchor="middle">17%</text>
<text class="l" transform="translate(105.80 408.29) scale(1 1.0)" text-anchor="end">(9) Credential Updates</text>
<text class="p" transform="translate(130.30 408.29) scale(1 1.1)" text-anchor="end">5%</text>
<text class="p" transform="translate(321.30 408.29) scale(1 1.1)">76%</text>
<text class="p" transform="translate(157.35 408.29) scale(1 1.1)" text-anchor="middle">18%</text>
<text class="l" transform="translate(105.80 416.26) scale(1 1.0)" text-anchor="end">(15) New Network Device</text>
<text class="p" transform="translate(130.30 416.26) scale(1 1.1)" text-anchor="end">15%</text>
<text class="p" transform="translate(321.30 416.26) scale(1 1.1)">74%</text>
<text class="p" transform="translate(168.63 416.26) scale(1 1.1)" text-anchor="middle">10%</text>
<text class="l" transform="translate(105.80 424.23) scale(1 1.0)" text-anchor="end">(10) Server Login</text>
<text class="p" transform="translate(130.30 424.23) scale(1 1.1)" text-anchor="end">5%</text>
<text class="p" transform="translate(321.30 424.23) scale(1 1.1)">70%</text>
<text class="p" transform="translate(162.99 424.23) scale(1 1.1)" text-anchor="middle">24%</text>
<text class="l" transform="translate(105.80 432.20) scale(1 1.0)" text-anchor="end">(7) System Commands</text>
<text class="p" transform="translate(130.30 432.20) scale(1 1.1)" text-anchor="end">8%</text>
<text class="p" transform="translate(321.30 432.20) scale(1 1.1)">70%</text>
<text class="p" transform="translate(165.63 432.20) scale(1 1.1)" text-anchor="middle">22%</text>
<text class="l" transform="translate(105.80 440.17) scale(1 1.0)" text-anchor="end">(5) Custom Scripts</text>
<text class="p" transform="translate(130.30 440.17) scale(1 1.1)" text-anchor="end">8%</text>
<text class="p" transform="translate(321.30 440.17) scale(1 1.1)">69%</text>
<text class="p" transform="translate(166.19 440.17) scale(1 1.1)" text-anchor="middle">23%</text>
<text class="l" transform="translate(105.80 448.14) scale(1 1.0)" text-anchor="end">(8) Software Installation</text>
<text class="p" transform="translate(130.30 448.14) scale(1 1.1)" text-anchor="end">6%</text>
<text class="p" transform="translate(321.30 448.14) scale(1 1.1)">68%</text>
<text class="p" transform="translate(166.10 448.14) scale(1 1.1)" text-anchor="middle">26%</text>
<text class="l" transform="translate(105.80 456.11) scale(1 1.0)" text-anchor="end">(4) Many Copy−Operations</text>
<text class="p" transform="translate(130.30 456.11) scale(1 1.1)" text-anchor="end">11%</text>
<text class="p" transform="translate(321.30 456.11) scale(1 1.1)">68%</text>
<text class="p" transform="translate(170.61 456.11) scale(1 1.1)" text-anchor="middle">22%</text>
<text class="l" transform="translate(105.80 464.08) scale(1 1.0)" text-anchor="end">(13) Inbound Connections</text>
<text class="p" transform="translate(130.30 464.08) scale(1 1.1)" text-anchor="end">8%</text>
<text class="p" transform="translate(321.30 464.08) scale(1 1.1)">67%</text>
<text class="p" transform="translate(169.10 464.08) scale(1 1.1)" text-anchor="middle">25%</text>
<text class="l" transform="translate(105.80 472.06) scale(1 1.0)" text-anchor="end">(11) Server Checks/Cleaning</text>
<text class="p" transform="translate(130.30 472.06) scale(1 1.1)" text-anchor="end">5%</text>
<text class="p" transform="translate(321.30 472.06) scale(1 1.1)">67%</text>
<text class="p" transform="translate(166.28 472.06) scale(1 1.1)" text-anchor="middle">28%</text>
<text class="l" transform="translate(105.80 480.02) scale(1 1.0)" text-anchor="end">(3) OS Configurations</text>
<text class="p" transform="translate(130.30 480.02) scale(1 1.1)" text-anchor="end">9%</text>
<text class="p" transform="translate(321.30 480.02) scale(1 1.1)">62%</text>
<text class="p" transform="translate(174.09 480.02) scale(1 1.1)" text-anchor="middle">29%</text>
<text class="l" transform="translate(105.80 487.99) scale(1 1.0)" text-anchor="end">(17) Outbound Connections</text>
<text class="p" transform="translate(130.30 487.99) scale(1 1.1)" text-anchor="end">9%</text>
<text class="p" transform="translate(321.30 487.99) scale(1 1.1)">60%</text>
<text class="p" transform="translate(175.59 487.99) scale(1 1.1)" text-anchor="middle">31%</text>
<text class="l" transform="translate(105.80 495.96) scale(1 1.0)" text-anchor="end">(16) Failed Login</text>
<text class="p" transform="translate(130.30 495.96) scale(1 1.1)" text-anchor="end">15%</text>
<text class="p" transform="translate(321.30 495.96) scale(1 1.1)">58%</text>
<text class="p" transform="translate(183.96 495.96) scale(1 1.1)" text-anchor="middle">28%</text>
<text class="l" transform="translate(105.80 503.94) scale(1 1.0)" text-anchor="end">(14) Software Execution</text>
<text class="p" transform="translate(130.30 503.94) scale(1 1.1)" text-anchor="end">9%</text>
<text class="p" transform="translate(321.30 503.94) scale(1 1.1)">47%</text>
<text class="p" transform="translate(188.00 503.94) scale(1 1.1)" text-anchor="middle">44%</text>
<text class="t" x="454.60" y="36.05">Q2.2 Events from special/admin users</text>
<rect x="454.80" y="44.05" width="227.10" height="136.40" fill="none" stroke="#BCBCBC" stroke-width="1.2"/>
<rect x="593.81" y="44.73" width="68.49" height="7.27" fill="#48A698"/>
<rect x="521.43" y="44.73" width="73.38" height="7.27" fill="#97CBC4"/>
<rect x="487.78" y="44.73" width="34.65" height="7.27" fill="#E0E0E0"/>
<rect x="477.81" y="44.73" width="10.96" height="7.27" fill="#EAD7A7"/>
<rect x="474.30" y="44.73" width="4.51" height="7.27" fill="#D4AE65"/>
<rect x="636.30" y="52.70" width="26.00" height="7.27" fill="#48A698"/>
<rect x="522.74" y="52.70" width="114.55" height="7.27" fill="#97CBC4"/>
<rect x="487.78" y="52.70" width="35.97" height="7.27" fill="#E0E0E0"/>
<rect x="474.30" y="52.70" width="14.48" height="7.27" fill="#EAD7A7"/>
<rect x="622.38" y="60.67" width="39.92" height="7.27" fill="#48A698"/>
<rect x="523.12" y="60.67" width="100.26" height="7.27" fill="#97CBC4"/>
<rect x="500.94" y="60.67" width="23.18" height="7.27" fill="#E0E0E0"/>
<rect x="474.30" y="60.67" width="27.64" height="7.27" fill="#EAD7A7"/>
<rect x="603.77" y="68.64" width="58.53" height="7.27" fill="#48A698"/>
<rect x="525.75" y="68.64" width="79.02" height="7.27" fill="#97CBC4"/>
<rect x="489.28" y="68.64" width="37.47" height="7.27" fill="#E0E0E0"/>
<rect x="474.30" y="68.64" width="15.98" height="7.27" fill="#EAD7A7"/>
<rect x="592.12" y="76.61" width="70.18" height="7.27" fill="#48A698"/>
<rect x="529.89" y="76.61" width="63.23" height="7.27" fill="#97CBC4"/>
<rect x="485.90" y="76.61" width="44.99" height="7.27" fill="#E0E0E0"/>
<rect x="474.30" y="76.61" width="12.60" height="7.27" fill="#EAD7A7"/>
<rect x="614.11" y="84.58" width="48.19" height="7.27" fill="#48A698"/>
<rect x="530.64" y="84.58" width="84.47" height="7.27" fill="#97CBC4"/>
<rect x="504.70" y="84.58" width="26.94" height="7.27" fill="#E0E0E0"/>
<rect x="483.64" y="84.58" width="22.06" height="7.27" fill="#EAD7A7"/>
<rect x="474.30" y="84.58" width="10.34" height="7.27" fill="#D4AE65"/>
<rect x="621.44" y="92.55" width="40.86" height="7.27" fill="#48A698"/>
<rect x="532.71" y="92.55" width="89.74" height="7.27" fill="#97CBC4"/>
<rect x="487.78" y="92.55" width="45.93" height="7.27" fill="#E0E0E0"/>
<rect x="474.30" y="92.55" width="14.48" height="7.27" fill="#EAD7A7"/>
<rect x="631.60" y="100.52" width="30.70" height="7.27" fill="#48A698"/>
<rect x="537.78" y="100.52" width="94.81" height="7.27" fill="#97CBC4"/>
<rect x="491.16" y="100.52" width="47.62" height="7.27" fill="#E0E0E0"/>
<rect x="478.56" y="100.52" width="13.60" height="7.27" fill="#EAD7A7"/>
<rect x="474.30" y="100.52" width="5.26" height="7.27" fill="#D4AE65"/>
<rect x="650.58" y="108.49" width="11.72" height="7.27" fill="#48A698"/>
<rect x="539.10" y="108.49" width="112.48" height="7.27" fill="#97CBC4"/>
<rect x="493.42" y="108.49" width="46.68" height="7.27" fill="#E0E0E0"/>
<rect x="483.08" y="108.49" width="11.34" height="7.27" fill="#EAD7A7"/>
<rect x="474.30" y="108.49" width="9.78" height="7.27" fill="#D4AE65"/>
<rect x="636.30" y="116.46" width="26.00" height="7.27" fill="#48A698"/>
<rect x="547.37" y="116.46" width="89.92" height="7.27" fill="#97CBC4"/>
<rect x="512.97" y="116.46" width="35.40" height="7.27" fill="#E0E0E0"/>
<rect x="487.78" y="116.46" width="26.19" height="7.27" fill="#EAD7A7"/>
<rect x="474.30" y="116.46" width="14.48" height="7.27" fill="#D4AE65"/>
<rect x="655.85" y="124.43" width="6.45" height="7.27" fill="#48A698"/>
<rect x="564.86" y="124.43" width="91.99" height="7.27" fill="#97CBC4"/>
<rect x="506.95" y="124.43" width="58.90" height="7.27" fill="#E0E0E0"/>
<rect x="474.30" y="124.43" width="33.65" height="7.27" fill="#EAD7A7"/>
<rect x="631.60" y="132.40" width="30.70" height="7.27" fill="#48A698"/>
<rect x="571.81" y="132.40" width="60.78" height="7.27" fill="#97CBC4"/>
<rect x="507.70" y="132.40" width="65.11" height="7.27" fill="#E0E0E0"/>
<rect x="477.81" y="132.40" width="30.89" height="7.27" fill="#EAD7A7"/>
<rect x="474.30" y="132.40" width="4.51" height="7.27" fill="#D4AE65"/>
<rect x="655.85" y="140.37" width="6.45" height="7.27" fill="#48A698"/>
<rect x="585.91" y="140.37" width="70.94" height="7.27" fill="#97CBC4"/>
<rect x="516.16" y="140.37" width="70.75" height="7.27" fill="#E0E0E0"/>
<rect x="478.56" y="140.37" width="38.60" height="7.27" fill="#EAD7A7"/>
<rect x="474.30" y="140.37" width="5.26" height="7.27" fill="#D4AE65"/>
<rect x="655.85" y="148.34" width="6.45" height="7.27" fill="#48A698"/>
<rect x="588.17" y="148.34" width="68.68" height="7.27" fill="#97CBC4"/>
<rect x="509.96" y="148.34" width="79.21" height="7.27" fill="#E0E0E0"/>
<rect x="474.30" y="148.34" width="36.66" height="7.27" fill="#EAD7A7"/>
<rect x="650.21" y="156.31" width="12.09" height="7.27" fill="#48A698"/>
<rect x="589.30" y="156.31" width="61.91" height="7.27" fill="#97CBC4"/>
<rect x="489.84" y="156.31" width="100.45" height="7.27" fill="#E0E0E0"/>
<rect x="484.20" y="156.31" width="6.64" height="7.27" fill="#EAD7A7"/>
<rect x="474.30" y="156.31" width="10.90" height="7.27" fill="#D4AE65"/>
<rect x="642.69" y="164.28" width="19.61" height="7.27" fill="#48A698"/>
<rect x="592.30" y="164.28" width="51.38" height="7.27" fill="#97CBC4"/>
<rect x="528.38" y="164.28" width="64.92" height="7.27" fill="#E0E0E0"/>
<rect x="482.14" y="164.28" width="47.25" height="7.27" fill="#EAD7A7"/>
<rect x="474.30" y="164.28" width="8.84" height="7.27" fill="#D4AE65"/>
<rect x="655.85" y="172.25" width="6.45" height="7.27" fill="#48A698"/>
<rect x="594.75" y="172.25" width="62.10" height="7.27" fill="#97CBC4"/>
<rect x="503.76" y="172.25" width="91.99" height="7.27" fill="#E0E0E0"/>
<rect x="478.00" y="172.25" width="26.76" height="7.27" fill="#EAD7A7"/>
<rect x="474.30" y="172.25" width="4.70" height="7.27" fill="#D4AE65"/>
<rect x="453.80" y="51.95" width="2" height="0.8" fill="#fff"/>
<rect x="680.90" y="51.95" width="2" height="0.8" fill="#fff"/>
<rect x="453.80" y="59.92" width="2" height="0.8" fill="#fff"/>
<rect x="680.90" y="59.92" width="2" height="0.8" fill="#fff"/>
<rect x="453.80" y="67.89" width="2" height="0.8" fill="#fff"/>
<rect x="680.90" y="67.89" width="2" height="0.8" fill="#fff"/>
<rect x="453.80" y="75.86" width="2" height="0.8" fill="#fff"/>
<rect x="680.90" y="75.86" width="2" height="0.8" fill="#fff"/>
<rect x="453.80" y="83.83" width="2" height="0.8" fill="#fff"/>
<rect x="680.90" y="83.83" width="2" height="0.8" fill="#fff"/>
<rect x="453.80" y="91.80" width="2" height="0.8" fill="#fff"/>
<rect x="680.90" y="91.80" width="2" height="0.8" fill="#fff"/>
<rect x="453.80" y="99.77" width="2" height="0.8" fill="#fff"/>
<rect x="680.90" y="99.77" width="2" height="0.8" fill="#fff"/>
<rect x="453.80" y="107.74" width="2" height="0.8" fill="#fff"/>
<rect x="680.90" y="107.74" width="2" height="0.8" fill="#fff"/>
<rect x="453.80" y="115.71" width="2" height="0.8" fill="#fff"/>
<rect x="680.90" y="115.71" width="2" height="0.8" fill="#fff"/>
<rect x="453.80" y="123.68" width="2" height="0.8" fill="#fff"/>
<rect x="680.90" y="123.68" width="2" height="0.8" fill="#fff"/>
<rect x="453.80" y="131.65" width="2" height="0.8" fill="#fff"/>
<rect x="680.90" y="131.65" width="2" height="0.8" fill="#fff"/>
<rect x="453.80" y="139.62" width="2" height="0.8" fill="#fff"/>
<rect x="680.90" y="139.62" width="2" height="0.8" fill="#fff"/>
<rect x="453.80" y="147.59" width="2" height="0.8" fill="#fff"/>
<rect x="680.90" y="147.59" width="2" height="0.8" fill="#fff"/>
<rect x="453.80" y="155.56" width="2" height="0.8" fill="#fff"/>
<rect x="680.90" y="155.56" width="2" height="0.8" fill="#fff"/>
<rect x="453.80" y="163.53" width="2" height="0.8" fill="#fff"/>
<rect x="680.90" y="163.53" width="2" height="0.8" fill="#fff"/>
<rect x="453.80" y="171.50" width="2" height="0.8" fill="#fff"/>
<rect x="680.90" y="171.50" width="2" height="0.8" fill="#fff"/>
<rect x="473.90" y="43.15" width="0.8" height="2" fill="#fff"/>
<rect x="473.90" y="179.45" width="0.8" height="2" fill="#fff"/>
<rect x="497.40" y="43.15" width="0.8" height="2" fill="#fff"/>
<rect x="497.40" y="179.45" width="0.8" height="2" fill="#fff"/>
<rect x="520.90" y="43.15" width="0.8" height="2" fill="#fff"/>
<rect x="520.90" y="179.45" width="0.8" height="2" fill="#fff"/>
<rect x="544.40" y="43.15" width="0.8" height="2" fill="#fff"/>
<rect x="544.40" y="179.45" width="0.8" height="2" fill="#fff"/>
<rect x="567.90" y="43.15" width="0.8" height="2" fill="#fff"/>
<rect x="567.90" y="179.45" width="0.8" height="2" fill="#fff"/>
<rect x="591.40" y="43.15" width="0.8" height="2" fill="#fff"/>
<rect x="591.40" y="179.45" width="0.8" height="2" fill="#fff"/>
<rect x="614.90" y="43.15" width="0.8" height="2" fill="#fff"/>
<rect x="614.90" y="179.45" width="0.8" height="2" fill="#fff"/>
<rect x="638.40" y="43.15" width="0.8" height="2" fill="#fff"/>
<rect x="638.40" y="179.45" width="0.8" height="2" fill="#fff"/>
<rect x="661.90" y="43.15" width="0.8" height="2" fill="#fff"/>
<rect x="661.90" y="179.45" width="0.8" height="2" fill="#fff"/>
<text class="l" transform="translate(450.10 51.91) scale(1 1.0)" text-anchor="end">(11) Server Checks/Cleaning</text>
<text class="p" transform="translate(474.60 51.91) scale(1 1.1)" text-anchor="end">8%</text>
<text class="p" transform="translate(665.60 51.91) scale(1 1.1)">74%</text>
<text class="p" transform="translate(505.60 51.91) scale(1 1.1)" text-anchor="middle">18%</text>
<text class="l" transform="translate(450.10 59.88) scale(1 1.0)" text-anchor="end">(7) System Commands</text>
<text class="p" transform="translate(474.60 59.88) scale(1 1.1)" text-anchor="end">8%</text>
<text class="p" transform="translate(665.60 59.88) scale(1 1.1)">74%</text>
<text class="p" transform="translate(506.26 59.88) scale(1 1.1)" text-anchor="middle">18%</text>
<text class="l" transform="translate(450.10 67.85) scale(1 1.0)" text-anchor="end">(3) OS Configurations</text>
<text class="p" transform="translate(474.60 67.85) scale(1 1.1)" text-anchor="end">15%</text>
<text class="p" transform="translate(665.60 67.85) scale(1 1.1)">74%</text>
<text class="p" transform="translate(513.03 67.85) scale(1 1.1)" text-anchor="middle">12%</text>
<text class="l" transform="translate(450.10 75.82) scale(1 1.0)" text-anchor="end">(6) Network commands</text>
<text class="p" transform="translate(474.60 75.82) scale(1 1.1)" text-anchor="end">8%</text>
<text class="p" transform="translate(665.60 75.82) scale(1 1.1)">72%</text>
<text class="p" transform="translate(508.52 75.82) scale(1 1.1)" text-anchor="middle">19%</text>
<text class="l" transform="translate(450.10 83.79) scale(1 1.0)" text-anchor="end">(2) User Privileges</text>
<text class="p" transform="translate(474.60 83.79) scale(1 1.1)" text-anchor="end">7%</text>
<text class="p" transform="translate(665.60 83.79) scale(1 1.1)">70%</text>
<text class="p" transform="translate(508.89 83.79) scale(1 1.1)" text-anchor="middle">23%</text>
<text class="l" transform="translate(450.10 91.77) scale(1 1.0)" text-anchor="end">(12) Server Reboot</text>
<text class="p" transform="translate(474.60 91.77) scale(1 1.1)" text-anchor="end">17%</text>
<text class="p" transform="translate(665.60 91.77) scale(1 1.1)">69%</text>
<text class="p" transform="translate(518.67 91.77) scale(1 1.1)" text-anchor="middle">14%</text>
<text class="l" transform="translate(450.10 99.73) scale(1 1.0)" text-anchor="end">(10) Server Login</text>
<text class="p" transform="translate(474.60 99.73) scale(1 1.1)" text-anchor="end">8%</text>
<text class="p" transform="translate(665.60 99.73) scale(1 1.1)">68%</text>
<text class="p" transform="translate(511.24 99.73) scale(1 1.1)" text-anchor="middle">24%</text>
<text class="l" transform="translate(450.10 107.70) scale(1 1.0)" text-anchor="end">(8) Software Installation</text>
<text class="p" transform="translate(474.60 107.70) scale(1 1.1)" text-anchor="end">9%</text>
<text class="p" transform="translate(665.60 107.70) scale(1 1.1)">66%</text>
<text class="p" transform="translate(515.47 107.70) scale(1 1.1)" text-anchor="middle">25%</text>
<text class="l" transform="translate(450.10 115.67) scale(1 1.0)" text-anchor="end">(1) File Permissions</text>
<text class="p" transform="translate(474.60 115.67) scale(1 1.1)" text-anchor="end">11%</text>
<text class="p" transform="translate(665.60 115.67) scale(1 1.1)">65%</text>
<text class="p" transform="translate(517.26 115.67) scale(1 1.1)" text-anchor="middle">24%</text>
<text class="l" transform="translate(450.10 123.64) scale(1 1.0)" text-anchor="end">(15) New Network Device</text>
<text class="p" transform="translate(474.60 123.64) scale(1 1.1)" text-anchor="end">21%</text>
<text class="p" transform="translate(665.60 123.64) scale(1 1.1)">61%</text>
<text class="p" transform="translate(531.17 123.64) scale(1 1.1)" text-anchor="middle">18%</text>
<text class="l" transform="translate(450.10 131.62) scale(1 1.0)" text-anchor="end">(5) Custom Scripts</text>
<text class="p" transform="translate(474.60 131.62) scale(1 1.1)" text-anchor="end">18%</text>
<text class="p" transform="translate(665.60 131.62) scale(1 1.1)">51%</text>
<text class="p" transform="translate(536.90 131.62) scale(1 1.1)" text-anchor="middle">31%</text>
<text class="l" transform="translate(450.10 139.59) scale(1 1.0)" text-anchor="end">(9) Credential Updates</text>
<text class="p" transform="translate(474.60 139.59) scale(1 1.1)" text-anchor="end">18%</text>
<text class="p" transform="translate(665.60 139.59) scale(1 1.1)">47%</text>
<text class="p" transform="translate(540.76 139.59) scale(1 1.1)" text-anchor="middle">34%</text>
<text class="l" transform="translate(450.10 147.56) scale(1 1.0)" text-anchor="end">(17) Outbound Connections</text>
<text class="p" transform="translate(474.60 147.56) scale(1 1.1)" text-anchor="end">23%</text>
<text class="p" transform="translate(665.60 147.56) scale(1 1.1)">40%</text>
<text class="p" transform="translate(552.04 147.56) scale(1 1.1)" text-anchor="middle">37%</text>
<text class="l" transform="translate(450.10 155.53) scale(1 1.0)" text-anchor="end">(13) Inbound Connections</text>
<text class="p" transform="translate(474.60 155.53) scale(1 1.1)" text-anchor="end">19%</text>
<text class="p" transform="translate(665.60 155.53) scale(1 1.1)">39%</text>
<text class="p" transform="translate(550.06 155.53) scale(1 1.1)" text-anchor="middle">42%</text>
<text class="l" transform="translate(450.10 163.50) scale(1 1.0)" text-anchor="end">(14) Software Execution</text>
<text class="p" transform="translate(474.60 163.50) scale(1 1.1)" text-anchor="end">9%</text>
<text class="p" transform="translate(665.60 163.50) scale(1 1.1)">38%</text>
<text class="p" transform="translate(540.57 163.50) scale(1 1.1)" text-anchor="middle">53%</text>
<text class="l" transform="translate(450.10 171.47) scale(1 1.0)" text-anchor="end">(16) Failed Login</text>
<text class="p" transform="translate(474.60 171.47) scale(1 1.1)" text-anchor="end">29%</text>
<text class="p" transform="translate(665.60 171.47) scale(1 1.1)">37%</text>
<text class="p" transform="translate(561.34 171.47) scale(1 1.1)" text-anchor="middle">34%</text>
<text class="l" transform="translate(450.10 179.44) scale(1 1.0)" text-anchor="end">(4) Many Copy−Operations</text>
<text class="p" transform="translate(474.60 179.44) scale(1 1.1)" text-anchor="end">16%</text>
<text class="p" transform="translate(665.60 179.44) scale(1 1.1)">35%</text>
<text class="p" transform="translate(550.25 179.44) scale(1 1.1)" text-anchor="middle">49%</text>
<text class="t" x="454.60" y="197.95">Q3.1 Events determined as malicious</text>
<rect x="454.80" y="205.95" width="227.10" height="136.40" fill="none" stroke="#BCBCBC" stroke-width="1.2"/>
<rect x="615.24" y="206.58" width="47.06" height="7.32" fill="#97CBC4"/>
<rect x="578.96" y="206.58" width="37.28" height="7.32" fill="#E0E0E0"/>
<rect x="477.81" y="206.58" width="102.14" height="7.32" fill="#EAD7A7"/>
<rect x="474.30" y="206.58" width="4.51" height="7.32" fill="#D4AE65"/>
<rect x="634.04" y="214.60" width="28.26" height="7.32" fill="#97CBC4"/>
<rect x="567.49" y="214.60" width="67.55" height="7.32" fill="#E0E0E0"/>
<rect x="478.75" y="214.60" width="89.74" height="7.32" fill="#EAD7A7"/>
<rect x="474.30" y="214.60" width="5.45" height="7.32" fill="#D4AE65"/>
<rect x="651.71" y="222.62" width="10.59" height="7.32" fill="#48A698"/>
<rect x="637.05" y="222.62" width="15.66" height="7.32" fill="#97CBC4"/>
<rect x="588.92" y="222.62" width="49.13" height="7.32" fill="#E0E0E0"/>
<rect x="482.51" y="222.62" width="107.41" height="7.32" fill="#EAD7A7"/>
<rect x="474.30" y="222.62" width="9.21" height="7.32" fill="#D4AE65"/>
<rect x="655.66" y="230.64" width="6.64" height="7.32" fill="#48A698"/>
<rect x="639.87" y="230.64" width="16.79" height="7.32" fill="#97CBC4"/>
<rect x="559.22" y="230.64" width="81.65" height="7.32" fill="#E0E0E0"/>
<rect x="483.64" y="230.64" width="76.58" height="7.32" fill="#EAD7A7"/>
<rect x="474.30" y="230.64" width="10.34" height="7.32" fill="#D4AE65"/>
<rect x="640.81" y="238.66" width="21.49" height="7.32" fill="#97CBC4"/>
<rect x="595.12" y="238.66" width="46.68" height="7.32" fill="#E0E0E0"/>
<rect x="498.49" y="238.66" width="97.63" height="7.32" fill="#EAD7A7"/>
<rect x="474.30" y="238.66" width="25.19" height="7.32" fill="#D4AE65"/>
<rect x="656.41" y="246.68" width="5.89" height="7.32" fill="#48A698"/>
<rect x="641.94" y="246.68" width="15.48" height="7.32" fill="#97CBC4"/>
<rect x="608.28" y="246.68" width="34.65" height="7.32" fill="#E0E0E0"/>
<rect x="521.43" y="246.68" width="87.86" height="7.32" fill="#EAD7A7"/>
<rect x="474.30" y="246.68" width="48.13" height="7.32" fill="#D4AE65"/>
<rect x="645.88" y="254.70" width="16.42" height="7.32" fill="#97CBC4"/>
<rect x="588.17" y="254.70" width="58.72" height="7.32" fill="#E0E0E0"/>
<rect x="474.30" y="254.70" width="114.87" height="7.32" fill="#EAD7A7"/>
<rect x="645.88" y="262.72" width="16.42" height="7.32" fill="#97CBC4"/>
<rect x="599.82" y="262.72" width="47.06" height="7.32" fill="#E0E0E0"/>
<rect x="493.42" y="262.72" width="107.41" height="7.32" fill="#EAD7A7"/>
<rect x="474.30" y="262.72" width="20.12" height="7.32" fill="#D4AE65"/>
<rect x="646.64" y="270.74" width="15.66" height="7.32" fill="#97CBC4"/>
<rect x="612.98" y="270.74" width="34.65" height="7.32" fill="#E0E0E0"/>
<rect x="496.99" y="270.74" width="117.00" height="7.32" fill="#EAD7A7"/>
<rect x="474.30" y="270.74" width="23.69" height="7.32" fill="#D4AE65"/>
<rect x="648.70" y="278.76" width="13.60" height="7.32" fill="#97CBC4"/>
<rect x="592.12" y="278.76" width="57.59" height="7.32" fill="#E0E0E0"/>
<rect x="491.91" y="278.76" width="101.20" height="7.32" fill="#EAD7A7"/>
<rect x="474.30" y="278.76" width="18.61" height="7.32" fill="#D4AE65"/>
<rect x="649.83" y="286.78" width="12.47" height="7.32" fill="#97CBC4"/>
<rect x="561.47" y="286.78" width="89.36" height="7.32" fill="#E0E0E0"/>
<rect x="489.84" y="286.78" width="72.63" height="7.32" fill="#EAD7A7"/>
<rect x="474.30" y="286.78" width="16.54" height="7.32" fill="#D4AE65"/>
<rect x="650.40" y="294.80" width="11.90" height="7.32" fill="#97CBC4"/>
<rect x="590.99" y="294.80" width="60.41" height="7.32" fill="#E0E0E0"/>
<rect x="499.81" y="294.80" width="92.18" height="7.32" fill="#EAD7A7"/>
<rect x="474.30" y="294.80" width="26.51" height="7.32" fill="#D4AE65"/>
<rect x="651.15" y="302.82" width="11.15" height="7.32" fill="#97CBC4"/>
<rect x="611.29" y="302.82" width="40.86" height="7.32" fill="#E0E0E0"/>
<rect x="507.89" y="302.82" width="104.40" height="7.32" fill="#EAD7A7"/>
<rect x="474.30" y="302.82" width="34.59" height="7.32" fill="#D4AE65"/>
<rect x="655.85" y="310.84" width="6.45" height="7.32" fill="#48A698"/>
<rect x="651.15" y="310.84" width="5.70" height="7.32" fill="#97CBC4"/>
<rect x="597.00" y="310.84" width="55.14" height="7.32" fill="#E0E0E0"/>
<rect x="492.85" y="310.84" width="105.15" height="7.32" fill="#EAD7A7"/>
<rect x="474.30" y="310.84" width="19.55" height="7.32" fill="#D4AE65"/>
<rect x="655.85" y="318.86" width="6.45" height="7.32" fill="#97CBC4"/>
<rect x="613.92" y="318.86" width="42.92" height="7.32" fill="#E0E0E0"/>
<rect x="499.06" y="318.86" width="115.87" height="7.32" fill="#EAD7A7"/>
<rect x="474.30" y="318.86" width="25.76" height="7.32" fill="#D4AE65"/>
<rect x="655.85" y="326.88" width="6.45" height="7.32" fill="#48A698"/>
<rect x="646.07" y="326.88" width="10.78" height="7.32" fill="#E0E0E0"/>
<rect x="534.02" y="326.88" width="113.05" height="7.32" fill="#EAD7A7"/>
<rect x="474.30" y="326.88" width="60.72" height="7.32" fill="#D4AE65"/>
<rect x="613.92" y="334.90" width="48.38" height="7.32" fill="#E0E0E0"/>
<rect x="508.27" y="334.90" width="106.66" height="7.32" fill="#EAD7A7"/>
<rect x="474.30" y="334.90" width="34.97" height="7.32" fill="#D4AE65"/>
<rect x="453.80" y="213.85" width="2" height="0.8" fill="#fff"/>
<rect x="680.90" y="213.85" width="2" height="0.8" fill="#fff"/>
<rect x="453.80" y="221.87" width="2" height="0.8" fill="#fff"/>
<rect x="680.90" y="221.87" width="2" height="0.8" fill="#fff"/>
<rect x="453.80" y="229.89" width="2" height="0.8" fill="#fff"/>
<rect x="680.90" y="229.89" width="2" height="0.8" fill="#fff"/>
<rect x="453.80" y="237.91" width="2" height="0.8" fill="#fff"/>
<rect x="680.90" y="237.91" width="2" height="0.8" fill="#fff"/>
<rect x="453.80" y="245.93" width="2" height="0.8" fill="#fff"/>
<rect x="680.90" y="245.93" width="2" height="0.8" fill="#fff"/>
<rect x="453.80" y="253.95" width="2" height="0.8" fill="#fff"/>
<rect x="680.90" y="253.95" width="2" height="0.8" fill="#fff"/>
<rect x="453.80" y="261.97" width="2" height="0.8" fill="#fff"/>
<rect x="680.90" y="261.97" width="2" height="0.8" fill="#fff"/>
<rect x="453.80" y="269.99" width="2" height="0.8" fill="#fff"/>
<rect x="680.90" y="269.99" width="2" height="0.8" fill="#fff"/>
<rect x="453.80" y="278.01" width="2" height="0.8" fill="#fff"/>
<rect x="680.90" y="278.01" width="2" height="0.8" fill="#fff"/>
<rect x="453.80" y="286.03" width="2" height="0.8" fill="#fff"/>
<rect x="680.90" y="286.03" width="2" height="0.8" fill="#fff"/>
<rect x="453.80" y="294.05" width="2" height="0.8" fill="#fff"/>
<rect x="680.90" y="294.05" width="2" height="0.8" fill="#fff"/>
<rect x="453.80" y="302.07" width="2" height="0.8" fill="#fff"/>
<rect x="680.90" y="302.07" width="2" height="0.8" fill="#fff"/>
<rect x="453.80" y="310.09" width="2" height="0.8" fill="#fff"/>
<rect x="680.90" y="310.09" width="2" height="0.8" fill="#fff"/>
<rect x="453.80" y="318.11" width="2" height="0.8" fill="#fff"/>
<rect x="680.90" y="318.11" width="2" height="0.8" fill="#fff"/>
<rect x="453.80" y="326.13" width="2" height="0.8" fill="#fff"/>
<rect x="680.90" y="326.13" width="2" height="0.8" fill="#fff"/>
<rect x="453.80" y="334.15" width="2" height="0.8" fill="#fff"/>
<rect x="680.90" y="334.15" width="2" height="0.8" fill="#fff"/>
<rect x="473.90" y="205.05" width="0.8" height="2" fill="#fff"/>
<rect x="473.90" y="341.35" width="0.8" height="2" fill="#fff"/>
<rect x="497.40" y="205.05" width="0.8" height="2" fill="#fff"/>
<rect x="497.40" y="341.35" width="0.8" height="2" fill="#fff"/>
<rect x="520.90" y="205.05" width="0.8" height="2" fill="#fff"/>
<rect x="520.90" y="341.35" width="0.8" height="2" fill="#fff"/>
<rect x="544.40" y="205.05" width="0.8" height="2" fill="#fff"/>
<rect x="544.40" y="341.35" width="0.8" height="2" fill="#fff"/>
<rect x="567.90" y="205.05" width="0.8" height="2" fill="#fff"/>
<rect x="567.90" y="341.35" width="0.8" height="2" fill="#fff"/>
<rect x="591.40" y="205.05" width="0.8" height="2" fill="#fff"/>
<rect x="591.40" y="341.35" width="0.8" height="2" fill="#fff"/>
<rect x="614.90" y="205.05" width="0.8" height="2" fill="#fff"/>
<rect x="614.90" y="341.35" width="0.8" height="2" fill="#fff"/>
<rect x="638.40" y="205.05" width="0.8" height="2" fill="#fff"/>
<rect x="638.40" y="341.35" width="0.8" height="2" fill="#fff"/>
<rect x="661.90" y="205.05" width="0.8" height="2" fill="#fff"/>
<rect x="661.90" y="341.35" width="0.8" height="2" fill="#fff"/>
<text class="l" transform="translate(450.10 213.79) scale(1 1.0)" text-anchor="end">(16) Failed Login</text>
<text class="p" transform="translate(474.60 213.79) scale(1 1.1)" text-anchor="end">56%</text>
<text class="p" transform="translate(665.60 213.79) scale(1 1.1)">24%</text>
<text class="p" transform="translate(598.10 213.79) scale(1 1.1)" text-anchor="middle">20%</text>
<text class="l" transform="translate(450.10 221.81) scale(1 1.0)" text-anchor="end">(3) OS Configurations</text>
<text class="p" transform="translate(474.60 221.81) scale(1 1.1)" text-anchor="end">50%</text>
<text class="p" transform="translate(665.60 221.81) scale(1 1.1)">15%</text>
<text class="p" transform="translate(601.76 221.81) scale(1 1.1)" text-anchor="middle">35%</text>
<text class="l" transform="translate(450.10 229.83) scale(1 1.0)" text-anchor="end">(5) Custom Scripts</text>
<text class="p" transform="translate(474.60 229.83) scale(1 1.1)" text-anchor="end">62%</text>
<text class="p" transform="translate(665.60 229.83) scale(1 1.1)">13%</text>
<text class="p" transform="translate(613.98 229.83) scale(1 1.1)" text-anchor="middle">26%</text>
<text class="l" transform="translate(450.10 237.85) scale(1 1.0)" text-anchor="end">(17) Outbound Connections</text>
<text class="p" transform="translate(474.60 237.85) scale(1 1.1)" text-anchor="end">46%</text>
<text class="p" transform="translate(665.60 237.85) scale(1 1.1)">11%</text>
<text class="p" transform="translate(600.54 237.85) scale(1 1.1)" text-anchor="middle">43%</text>
<text class="l" transform="translate(450.10 245.87) scale(1 1.0)" text-anchor="end">(4) Many Copy−Operations</text>
<text class="p" transform="translate(474.60 245.87) scale(1 1.1)" text-anchor="end">65%</text>
<text class="p" transform="translate(665.60 245.87) scale(1 1.1)">11%</text>
<text class="p" transform="translate(618.97 245.87) scale(1 1.1)" text-anchor="middle">24%</text>
<text class="l" transform="translate(450.10 253.89) scale(1 1.0)" text-anchor="end">(11) Server Checks/Cleaning</text>
<text class="p" transform="translate(474.60 253.89) scale(1 1.1)" text-anchor="end">72%</text>
<text class="p" transform="translate(665.60 253.89) scale(1 1.1)">10%</text>
<text class="p" transform="translate(626.11 253.89) scale(1 1.1)" text-anchor="middle">18%</text>
<text class="l" transform="translate(450.10 261.91) scale(1 1.0)" text-anchor="end">(13) Inbound Connections</text>
<text class="p" transform="translate(474.60 261.91) scale(1 1.1)" text-anchor="end">61%</text>
<text class="p" transform="translate(665.60 261.91) scale(1 1.1)">8%</text>
<text class="p" transform="translate(618.03 261.91) scale(1 1.1)" text-anchor="middle">31%</text>
<text class="l" transform="translate(450.10 269.93) scale(1 1.0)" text-anchor="end">(10) Server Login</text>
<text class="p" transform="translate(474.60 269.93) scale(1 1.1)" text-anchor="end">68%</text>
<text class="p" transform="translate(665.60 269.93) scale(1 1.1)">8%</text>
<text class="p" transform="translate(623.85 269.93) scale(1 1.1)" text-anchor="middle">24%</text>
<text class="l" transform="translate(450.10 277.95) scale(1 1.0)" text-anchor="end">(15) New Network Device</text>
<text class="p" transform="translate(474.60 277.95) scale(1 1.1)" text-anchor="end">74%</text>
<text class="p" transform="translate(665.60 277.95) scale(1 1.1)">8%</text>
<text class="p" transform="translate(630.81 277.95) scale(1 1.1)" text-anchor="middle">18%</text>
<text class="l" transform="translate(450.10 285.97) scale(1 1.0)" text-anchor="end">(2) User Privileges</text>
<text class="p" transform="translate(474.60 285.97) scale(1 1.1)" text-anchor="end">63%</text>
<text class="p" transform="translate(665.60 285.97) scale(1 1.1)">7%</text>
<text class="p" transform="translate(621.41 285.97) scale(1 1.1)" text-anchor="middle">30%</text>
<text class="l" transform="translate(450.10 293.99) scale(1 1.0)" text-anchor="end">(14) Software Execution</text>
<text class="p" transform="translate(474.60 293.99) scale(1 1.1)" text-anchor="end">47%</text>
<text class="p" transform="translate(665.60 293.99) scale(1 1.1)">6%</text>
<text class="p" transform="translate(606.65 293.99) scale(1 1.1)" text-anchor="middle">47%</text>
<text class="l" transform="translate(450.10 302.01) scale(1 1.0)" text-anchor="end">(1) File Permissions</text>
<text class="p" transform="translate(474.60 302.01) scale(1 1.1)" text-anchor="end">63%</text>
<text class="p" transform="translate(665.60 302.01) scale(1 1.1)">6%</text>
<text class="p" transform="translate(621.69 302.01) scale(1 1.1)" text-anchor="middle">31%</text>
<text class="l" transform="translate(450.10 310.03) scale(1 1.0)" text-anchor="end">(9) Credential Updates</text>
<text class="p" transform="translate(474.60 310.03) scale(1 1.1)" text-anchor="end">74%</text>
<text class="p" transform="translate(665.60 310.03) scale(1 1.1)">5%</text>
<text class="p" transform="translate(632.22 310.03) scale(1 1.1)" text-anchor="middle">21%</text>
<text class="l" transform="translate(450.10 318.05) scale(1 1.0)" text-anchor="end">(7) System Commands</text>
<text class="p" transform="translate(474.60 318.05) scale(1 1.1)" text-anchor="end">66%</text>
<text class="p" transform="translate(665.60 318.05) scale(1 1.1)">5%</text>
<text class="p" transform="translate(625.08 318.05) scale(1 1.1)" text-anchor="middle">29%</text>
<text class="l" transform="translate(450.10 326.07) scale(1 1.0)" text-anchor="end">(6) Network commands</text>
<text class="p" transform="translate(474.60 326.07) scale(1 1.1)" text-anchor="end">75%</text>
<text class="p" transform="translate(665.60 326.07) scale(1 1.1)">3%</text>
<text class="p" transform="translate(635.89 326.07) scale(1 1.1)" text-anchor="middle">22%</text>
<text class="l" transform="translate(450.10 334.09) scale(1 1.0)" text-anchor="end">(12) Server Reboot</text>
<text class="p" transform="translate(474.60 334.09) scale(1 1.1)" text-anchor="end">92%</text>
<text class="p" transform="translate(665.60 334.09) scale(1 1.1)">3%</text>
<text class="p" transform="translate(651.96 334.09) scale(1 1.1)" text-anchor="middle">5%</text>
<text class="l" transform="translate(450.10 342.11) scale(1 1.0)" text-anchor="end">(8) Software Installation</text>
<text class="p" transform="translate(474.60 342.11) scale(1 1.1)" text-anchor="end">75%</text>
<text class="p" transform="translate(665.60 342.11) scale(1 1.1)">0%</text>
<text class="p" transform="translate(638.61 342.11) scale(1 1.1)" text-anchor="middle">25%</text>
<text class="t" x="454.60" y="360.55">Q3.3 Events determined as real threat</text>
<rect x="454.80" y="368.55" width="227.10" height="136.40" fill="none" stroke="#BCBCBC" stroke-width="1.2"/>
<rect x="656.04" y="369.23" width="6.26" height="7.27" fill="#48A698"/>
<rect x="632.35" y="369.23" width="24.69" height="7.27" fill="#97CBC4"/>
<rect x="574.07" y="369.23" width="59.28" height="7.27" fill="#E0E0E0"/>
<rect x="482.70" y="369.23" width="92.37" height="7.27" fill="#EAD7A7"/>
<rect x="474.30" y="369.23" width="9.40" height="7.27" fill="#D4AE65"/>
<rect x="656.04" y="377.20" width="6.26" height="7.27" fill="#48A698"/>
<rect x="634.79" y="377.20" width="22.24" height="7.27" fill="#97CBC4"/>
<rect x="574.63" y="377.20" width="61.16" height="7.27" fill="#E0E0E0"/>
<rect x="494.73" y="377.20" width="80.90" height="7.27" fill="#EAD7A7"/>
<rect x="474.30" y="377.20" width="21.43" height="7.27" fill="#D4AE65"/>
<rect x="636.11" y="385.17" width="26.19" height="7.27" fill="#97CBC4"/>
<rect x="585.91" y="385.17" width="51.20" height="7.27" fill="#E0E0E0"/>
<rect x="485.52" y="385.17" width="101.39" height="7.27" fill="#EAD7A7"/>
<rect x="474.30" y="385.17" width="12.22" height="7.27" fill="#D4AE65"/>
<rect x="636.86" y="393.14" width="25.44" height="7.27" fill="#97CBC4"/>
<rect x="606.97" y="393.14" width="30.89" height="7.27" fill="#E0E0E0"/>
<rect x="491.54" y="393.14" width="116.43" height="7.27" fill="#EAD7A7"/>
<rect x="474.30" y="393.14" width="18.24" height="7.27" fill="#D4AE65"/>
<rect x="656.79" y="401.11" width="5.51" height="7.27" fill="#48A698"/>
<rect x="638.36" y="401.11" width="19.42" height="7.27" fill="#97CBC4"/>
<rect x="578.39" y="401.11" width="60.97" height="7.27" fill="#E0E0E0"/>
<rect x="477.81" y="401.11" width="101.58" height="7.27" fill="#EAD7A7"/>
<rect x="474.30" y="401.11" width="4.51" height="7.27" fill="#D4AE65"/>
<rect x="655.85" y="409.08" width="6.45" height="7.27" fill="#48A698"/>
<rect x="639.12" y="409.08" width="17.73" height="7.27" fill="#97CBC4"/>
<rect x="600.20" y="409.08" width="39.92" height="7.27" fill="#E0E0E0"/>
<rect x="478.75" y="409.08" width="122.45" height="7.27" fill="#EAD7A7"/>
<rect x="474.30" y="409.08" width="5.45" height="7.27" fill="#D4AE65"/>
<rect x="655.85" y="417.05" width="6.45" height="7.27" fill="#48A698"/>
<rect x="641.00" y="417.05" width="15.85" height="7.27" fill="#97CBC4"/>
<rect x="574.63" y="417.05" width="67.36" height="7.27" fill="#E0E0E0"/>
<rect x="493.42" y="417.05" width="82.22" height="7.27" fill="#EAD7A7"/>
<rect x="474.30" y="417.05" width="20.12" height="7.27" fill="#D4AE65"/>
<rect x="655.85" y="425.02" width="6.45" height="7.27" fill="#48A698"/>
<rect x="641.37" y="425.02" width="15.48" height="7.27" fill="#97CBC4"/>
<rect x="592.12" y="425.02" width="50.26" height="7.27" fill="#E0E0E0"/>
<rect x="492.85" y="425.02" width="100.26" height="7.27" fill="#EAD7A7"/>
<rect x="474.30" y="425.02" width="19.55" height="7.27" fill="#D4AE65"/>
<rect x="655.85" y="432.99" width="6.45" height="7.27" fill="#48A698"/>
<rect x="644.76" y="432.99" width="12.09" height="7.27" fill="#97CBC4"/>
<rect x="607.72" y="432.99" width="38.04" height="7.27" fill="#E0E0E0"/>
<rect x="515.79" y="432.99" width="92.93" height="7.27" fill="#EAD7A7"/>
<rect x="474.30" y="432.99" width="42.49" height="7.27" fill="#D4AE65"/>
<rect x="646.07" y="440.96" width="16.23" height="7.27" fill="#97CBC4"/>
<rect x="634.98" y="440.96" width="12.09" height="7.27" fill="#E0E0E0"/>
<rect x="549.44" y="440.96" width="86.54" height="7.27" fill="#EAD7A7"/>
<rect x="474.30" y="440.96" width="76.14" height="7.27" fill="#D4AE65"/>
<rect x="646.07" y="448.93" width="16.23" height="7.27" fill="#97CBC4"/>
<rect x="611.10" y="448.93" width="35.97" height="7.27" fill="#E0E0E0"/>
<rect x="502.63" y="448.93" width="109.48" height="7.27" fill="#EAD7A7"/>
<rect x="474.30" y="448.93" width="29.33" height="7.27" fill="#D4AE65"/>
<rect x="649.83" y="456.90" width="12.47" height="7.27" fill="#97CBC4"/>
<rect x="599.82" y="456.90" width="51.01" height="7.27" fill="#E0E0E0"/>
<rect x="489.84" y="456.90" width="110.98" height="7.27" fill="#EAD7A7"/>
<rect x="474.30" y="456.90" width="16.54" height="7.27" fill="#D4AE65"/>
<rect x="650.96" y="464.87" width="11.34" height="7.27" fill="#97CBC4"/>
<rect x="571.81" y="464.87" width="80.15" height="7.27" fill="#E0E0E0"/>
<rect x="478.56" y="464.87" width="94.25" height="7.27" fill="#EAD7A7"/>
<rect x="474.30" y="464.87" width="5.26" height="7.27" fill="#D4AE65"/>
<rect x="655.85" y="472.84" width="6.45" height="7.27" fill="#48A698"/>
<rect x="651.15" y="472.84" width="5.70" height="7.27" fill="#97CBC4"/>
<rect x="604.90" y="472.84" width="47.25" height="7.27" fill="#E0E0E0"/>
<rect x="474.30" y="472.84" width="131.60" height="7.27" fill="#EAD7A7"/>
<rect x="655.85" y="480.81" width="6.45" height="7.27" fill="#48A698"/>
<rect x="651.15" y="480.81" width="5.70" height="7.27" fill="#97CBC4"/>
<rect x="616.74" y="480.81" width="35.40" height="7.27" fill="#E0E0E0"/>
<rect x="507.89" y="480.81" width="109.85" height="7.27" fill="#EAD7A7"/>
<rect x="474.30" y="480.81" width="34.59" height="7.27" fill="#D4AE65"/>
<rect x="651.15" y="488.78" width="11.15" height="7.27" fill="#97CBC4"/>
<rect x="616.74" y="488.78" width="35.40" height="7.27" fill="#E0E0E0"/>
<rect x="522.93" y="488.78" width="94.81" height="7.27" fill="#EAD7A7"/>
<rect x="474.30" y="488.78" width="49.63" height="7.27" fill="#D4AE65"/>
<rect x="655.85" y="496.75" width="6.45" height="7.27" fill="#97CBC4"/>
<rect x="613.92" y="496.75" width="42.92" height="7.27" fill="#E0E0E0"/>
<rect x="493.98" y="496.75" width="120.94" height="7.27" fill="#EAD7A7"/>
<rect x="474.30" y="496.75" width="20.68" height="7.27" fill="#D4AE65"/>
<rect x="453.80" y="376.45" width="2" height="0.8" fill="#fff"/>
<rect x="680.90" y="376.45" width="2" height="0.8" fill="#fff"/>
<rect x="453.80" y="384.42" width="2" height="0.8" fill="#fff"/>
<rect x="680.90" y="384.42" width="2" height="0.8" fill="#fff"/>
<rect x="453.80" y="392.39" width="2" height="0.8" fill="#fff"/>
<rect x="680.90" y="392.39" width="2" height="0.8" fill="#fff"/>
<rect x="453.80" y="400.36" width="2" height="0.8" fill="#fff"/>
<rect x="680.90" y="400.36" width="2" height="0.8" fill="#fff"/>
<rect x="453.80" y="408.33" width="2" height="0.8" fill="#fff"/>
<rect x="680.90" y="408.33" width="2" height="0.8" fill="#fff"/>
<rect x="453.80" y="416.30" width="2" height="0.8" fill="#fff"/>
<rect x="680.90" y="416.30" width="2" height="0.8" fill="#fff"/>
<rect x="453.80" y="424.27" width="2" height="0.8" fill="#fff"/>
<rect x="680.90" y="424.27" width="2" height="0.8" fill="#fff"/>
<rect x="453.80" y="432.24" width="2" height="0.8" fill="#fff"/>
<rect x="680.90" y="432.24" width="2" height="0.8" fill="#fff"/>
<rect x="453.80" y="440.21" width="2" height="0.8" fill="#fff"/>
<rect x="680.90" y="440.21" width="2" height="0.8" fill="#fff"/>
<rect x="453.80" y="448.18" width="2" height="0.8" fill="#fff"/>
<rect x="680.90" y="448.18" width="2" height="0.8" fill="#fff"/>
<rect x="453.80" y="456.15" width="2" height="0.8" fill="#fff"/>
<rect x="680.90" y="456.15" width="2" height="0.8" fill="#fff"/>
<rect x="453.80" y="464.12" width="2" height="0.8" fill="#fff"/>
<rect x="680.90" y="464.12" width="2" height="0.8" fill="#fff"/>
<rect x="453.80" y="472.09" width="2" height="0.8" fill="#fff"/>
<rect x="680.90" y="472.09" width="2" height="0.8" fill="#fff"/>
<rect x="453.80" y="480.06" width="2" height="0.8" fill="#fff"/>
<rect x="680.90" y="480.06" width="2" height="0.8" fill="#fff"/>
<rect x="453.80" y="488.03" width="2" height="0.8" fill="#fff"/>
<rect x="680.90" y="488.03" width="2" height="0.8" fill="#fff"/>
<rect x="453.80" y="496.00" width="2" height="0.8" fill="#fff"/>
<rect x="680.90" y="496.00" width="2" height="0.8" fill="#fff"/>
<rect x="473.90" y="367.65" width="0.8" height="2" fill="#fff"/>
<rect x="473.90" y="503.95" width="0.8" height="2" fill="#fff"/>
<rect x="497.40" y="367.65" width="0.8" height="2" fill="#fff"/>
<rect x="497.40" y="503.95" width="0.8" height="2" fill="#fff"/>
<rect x="520.90" y="367.65" width="0.8" height="2" fill="#fff"/>
<rect x="520.90" y="503.95" width="0.8" height="2" fill="#fff"/>
<rect x="544.40" y="367.65" width="0.8" height="2" fill="#fff"/>
<rect x="544.40" y="503.95" width="0.8" height="2" fill="#fff"/>
<rect x="567.90" y="367.65" width="0.8" height="2" fill="#fff"/>
<rect x="567.90" y="503.95" width="0.8" height="2" fill="#fff"/>
<rect x="591.40" y="367.65" width="0.8" height="2" fill="#fff"/>
<rect x="591.40" y="503.95" width="0.8" height="2" fill="#fff"/>
<rect x="614.90" y="367.65" width="0.8" height="2" fill="#fff"/>
<rect x="614.90" y="503.95" width="0.8" height="2" fill="#fff"/>
<rect x="638.40" y="367.65" width="0.8" height="2" fill="#fff"/>
<rect x="638.40" y="503.95" width="0.8" height="2" fill="#fff"/>
<rect x="661.90" y="367.65" width="0.8" height="2" fill="#fff"/>
<rect x="661.90" y="503.95" width="0.8" height="2" fill="#fff"/>
<text class="l" transform="translate(450.10 376.41) scale(1 1.0)" text-anchor="end">(5) Custom Scripts</text>
<text class="p" transform="translate(474.60 376.41) scale(1 1.1)" text-anchor="end">54%</text>
<text class="p" transform="translate(665.60 376.41) scale(1 1.1)">15%</text>
<text class="p" transform="translate(604.21 376.41) scale(1 1.1)" text-anchor="middle">31%</text>
<text class="l" transform="translate(450.10 384.38) scale(1 1.0)" text-anchor="end">(17) Outbound Connections</text>
<text class="p" transform="translate(474.60 384.38) scale(1 1.1)" text-anchor="end">54%</text>
<text class="p" transform="translate(665.60 384.38) scale(1 1.1)">14%</text>
<text class="p" transform="translate(605.71 384.38) scale(1 1.1)" text-anchor="middle">31%</text>
<text class="l" transform="translate(450.10 392.35) scale(1 1.0)" text-anchor="end">(2) User Privileges</text>
<text class="p" transform="translate(474.60 392.35) scale(1 1.1)" text-anchor="end">60%</text>
<text class="p" transform="translate(665.60 392.35) scale(1 1.1)">13%</text>
<text class="p" transform="translate(612.01 392.35) scale(1 1.1)" text-anchor="middle">27%</text>
<text class="l" transform="translate(450.10 400.32) scale(1 1.0)" text-anchor="end">(8) Software Installation</text>
<text class="p" transform="translate(474.60 400.32) scale(1 1.1)" text-anchor="end">71%</text>
<text class="p" transform="translate(665.60 400.32) scale(1 1.1)">13%</text>
<text class="p" transform="translate(622.91 400.32) scale(1 1.1)" text-anchor="middle">16%</text>
<text class="l" transform="translate(450.10 408.29) scale(1 1.0)" text-anchor="end">(16) Failed Login</text>
<text class="p" transform="translate(474.60 408.29) scale(1 1.1)" text-anchor="end">56%</text>
<text class="p" transform="translate(665.60 408.29) scale(1 1.1)">12%</text>
<text class="p" transform="translate(609.38 408.29) scale(1 1.1)" text-anchor="middle">32%</text>
<text class="l" transform="translate(450.10 416.26) scale(1 1.0)" text-anchor="end">(3) OS Configurations</text>
<text class="p" transform="translate(474.60 416.26) scale(1 1.1)" text-anchor="end">68%</text>
<text class="p" transform="translate(665.60 416.26) scale(1 1.1)">12%</text>
<text class="p" transform="translate(620.66 416.26) scale(1 1.1)" text-anchor="middle">21%</text>
<text class="l" transform="translate(450.10 424.23) scale(1 1.0)" text-anchor="end">(4) Many Copy−Operations</text>
<text class="p" transform="translate(474.60 424.23) scale(1 1.1)" text-anchor="end">54%</text>
<text class="p" transform="translate(665.60 424.23) scale(1 1.1)">11%</text>
<text class="p" transform="translate(608.81 424.23) scale(1 1.1)" text-anchor="middle">35%</text>
<text class="l" transform="translate(450.10 432.20) scale(1 1.0)" text-anchor="end">(10) Server Login</text>
<text class="p" transform="translate(474.60 432.20) scale(1 1.1)" text-anchor="end">63%</text>
<text class="p" transform="translate(665.60 432.20) scale(1 1.1)">11%</text>
<text class="p" transform="translate(617.74 432.20) scale(1 1.1)" text-anchor="middle">26%</text>
<text class="l" transform="translate(450.10 440.17) scale(1 1.0)" text-anchor="end">(1) File Permissions</text>
<text class="p" transform="translate(474.60 440.17) scale(1 1.1)" text-anchor="end">71%</text>
<text class="p" transform="translate(665.60 440.17) scale(1 1.1)">9%</text>
<text class="p" transform="translate(627.24 440.17) scale(1 1.1)" text-anchor="middle">20%</text>
<text class="l" transform="translate(450.10 448.14) scale(1 1.0)" text-anchor="end">(12) Server Reboot</text>
<text class="p" transform="translate(474.60 448.14) scale(1 1.1)" text-anchor="end">86%</text>
<text class="p" transform="translate(665.60 448.14) scale(1 1.1)">8%</text>
<text class="p" transform="translate(641.53 448.14) scale(1 1.1)" text-anchor="middle">5%</text>
<text class="l" transform="translate(450.10 456.11) scale(1 1.0)" text-anchor="end">(9) Credential Updates</text>
<text class="p" transform="translate(474.60 456.11) scale(1 1.1)" text-anchor="end">74%</text>
<text class="p" transform="translate(665.60 456.11) scale(1 1.1)">8%</text>
<text class="p" transform="translate(629.59 456.11) scale(1 1.1)" text-anchor="middle">18%</text>
<text class="l" transform="translate(450.10 464.08) scale(1 1.0)" text-anchor="end">(14) Software Execution</text>
<text class="p" transform="translate(474.60 464.08) scale(1 1.1)" text-anchor="end">68%</text>
<text class="p" transform="translate(665.60 464.08) scale(1 1.1)">6%</text>
<text class="p" transform="translate(625.83 464.08) scale(1 1.1)" text-anchor="middle">26%</text>
<text class="l" transform="translate(450.10 472.06) scale(1 1.0)" text-anchor="end">(13) Inbound Connections</text>
<text class="p" transform="translate(474.60 472.06) scale(1 1.1)" text-anchor="end">53%</text>
<text class="p" transform="translate(665.60 472.06) scale(1 1.1)">6%</text>
<text class="p" transform="translate(612.39 472.06) scale(1 1.1)" text-anchor="middle">42%</text>
<text class="l" transform="translate(450.10 480.02) scale(1 1.0)" text-anchor="end">(7) System Commands</text>
<text class="p" transform="translate(474.60 480.02) scale(1 1.1)" text-anchor="end">70%</text>
<text class="p" transform="translate(665.60 480.02) scale(1 1.1)">5%</text>
<text class="p" transform="translate(629.02 480.02) scale(1 1.1)" text-anchor="middle">24%</text>
<text class="l" transform="translate(450.10 487.99) scale(1 1.0)" text-anchor="end">(15) New Network Device</text>
<text class="p" transform="translate(474.60 487.99) scale(1 1.1)" text-anchor="end">76%</text>
<text class="p" transform="translate(665.60 487.99) scale(1 1.1)">5%</text>
<text class="p" transform="translate(634.95 487.99) scale(1 1.1)" text-anchor="middle">18%</text>
<text class="l" transform="translate(450.10 495.96) scale(1 1.0)" text-anchor="end">(11) Server Checks/Cleaning</text>
<text class="p" transform="translate(474.60 495.96) scale(1 1.1)" text-anchor="end">76%</text>
<text class="p" transform="translate(665.60 495.96) scale(1 1.1)">5%</text>
<text class="p" transform="translate(634.95 495.96) scale(1 1.1)" text-anchor="middle">18%</text>
<text class="l" transform="translate(450.10 503.94) scale(1 1.0)" text-anchor="end">(6) Network commands</text>
<text class="p" transform="translate(474.60 503.94) scale(1 1.1)" text-anchor="end">75%</text>
<text class="p" transform="translate(665.60 503.94) scale(1 1.1)">3%</text>
<text class="p" transform="translate(635.89 503.94) scale(1 1.1)" text-anchor="middle">22%</text>
</g></svg></body></html>
